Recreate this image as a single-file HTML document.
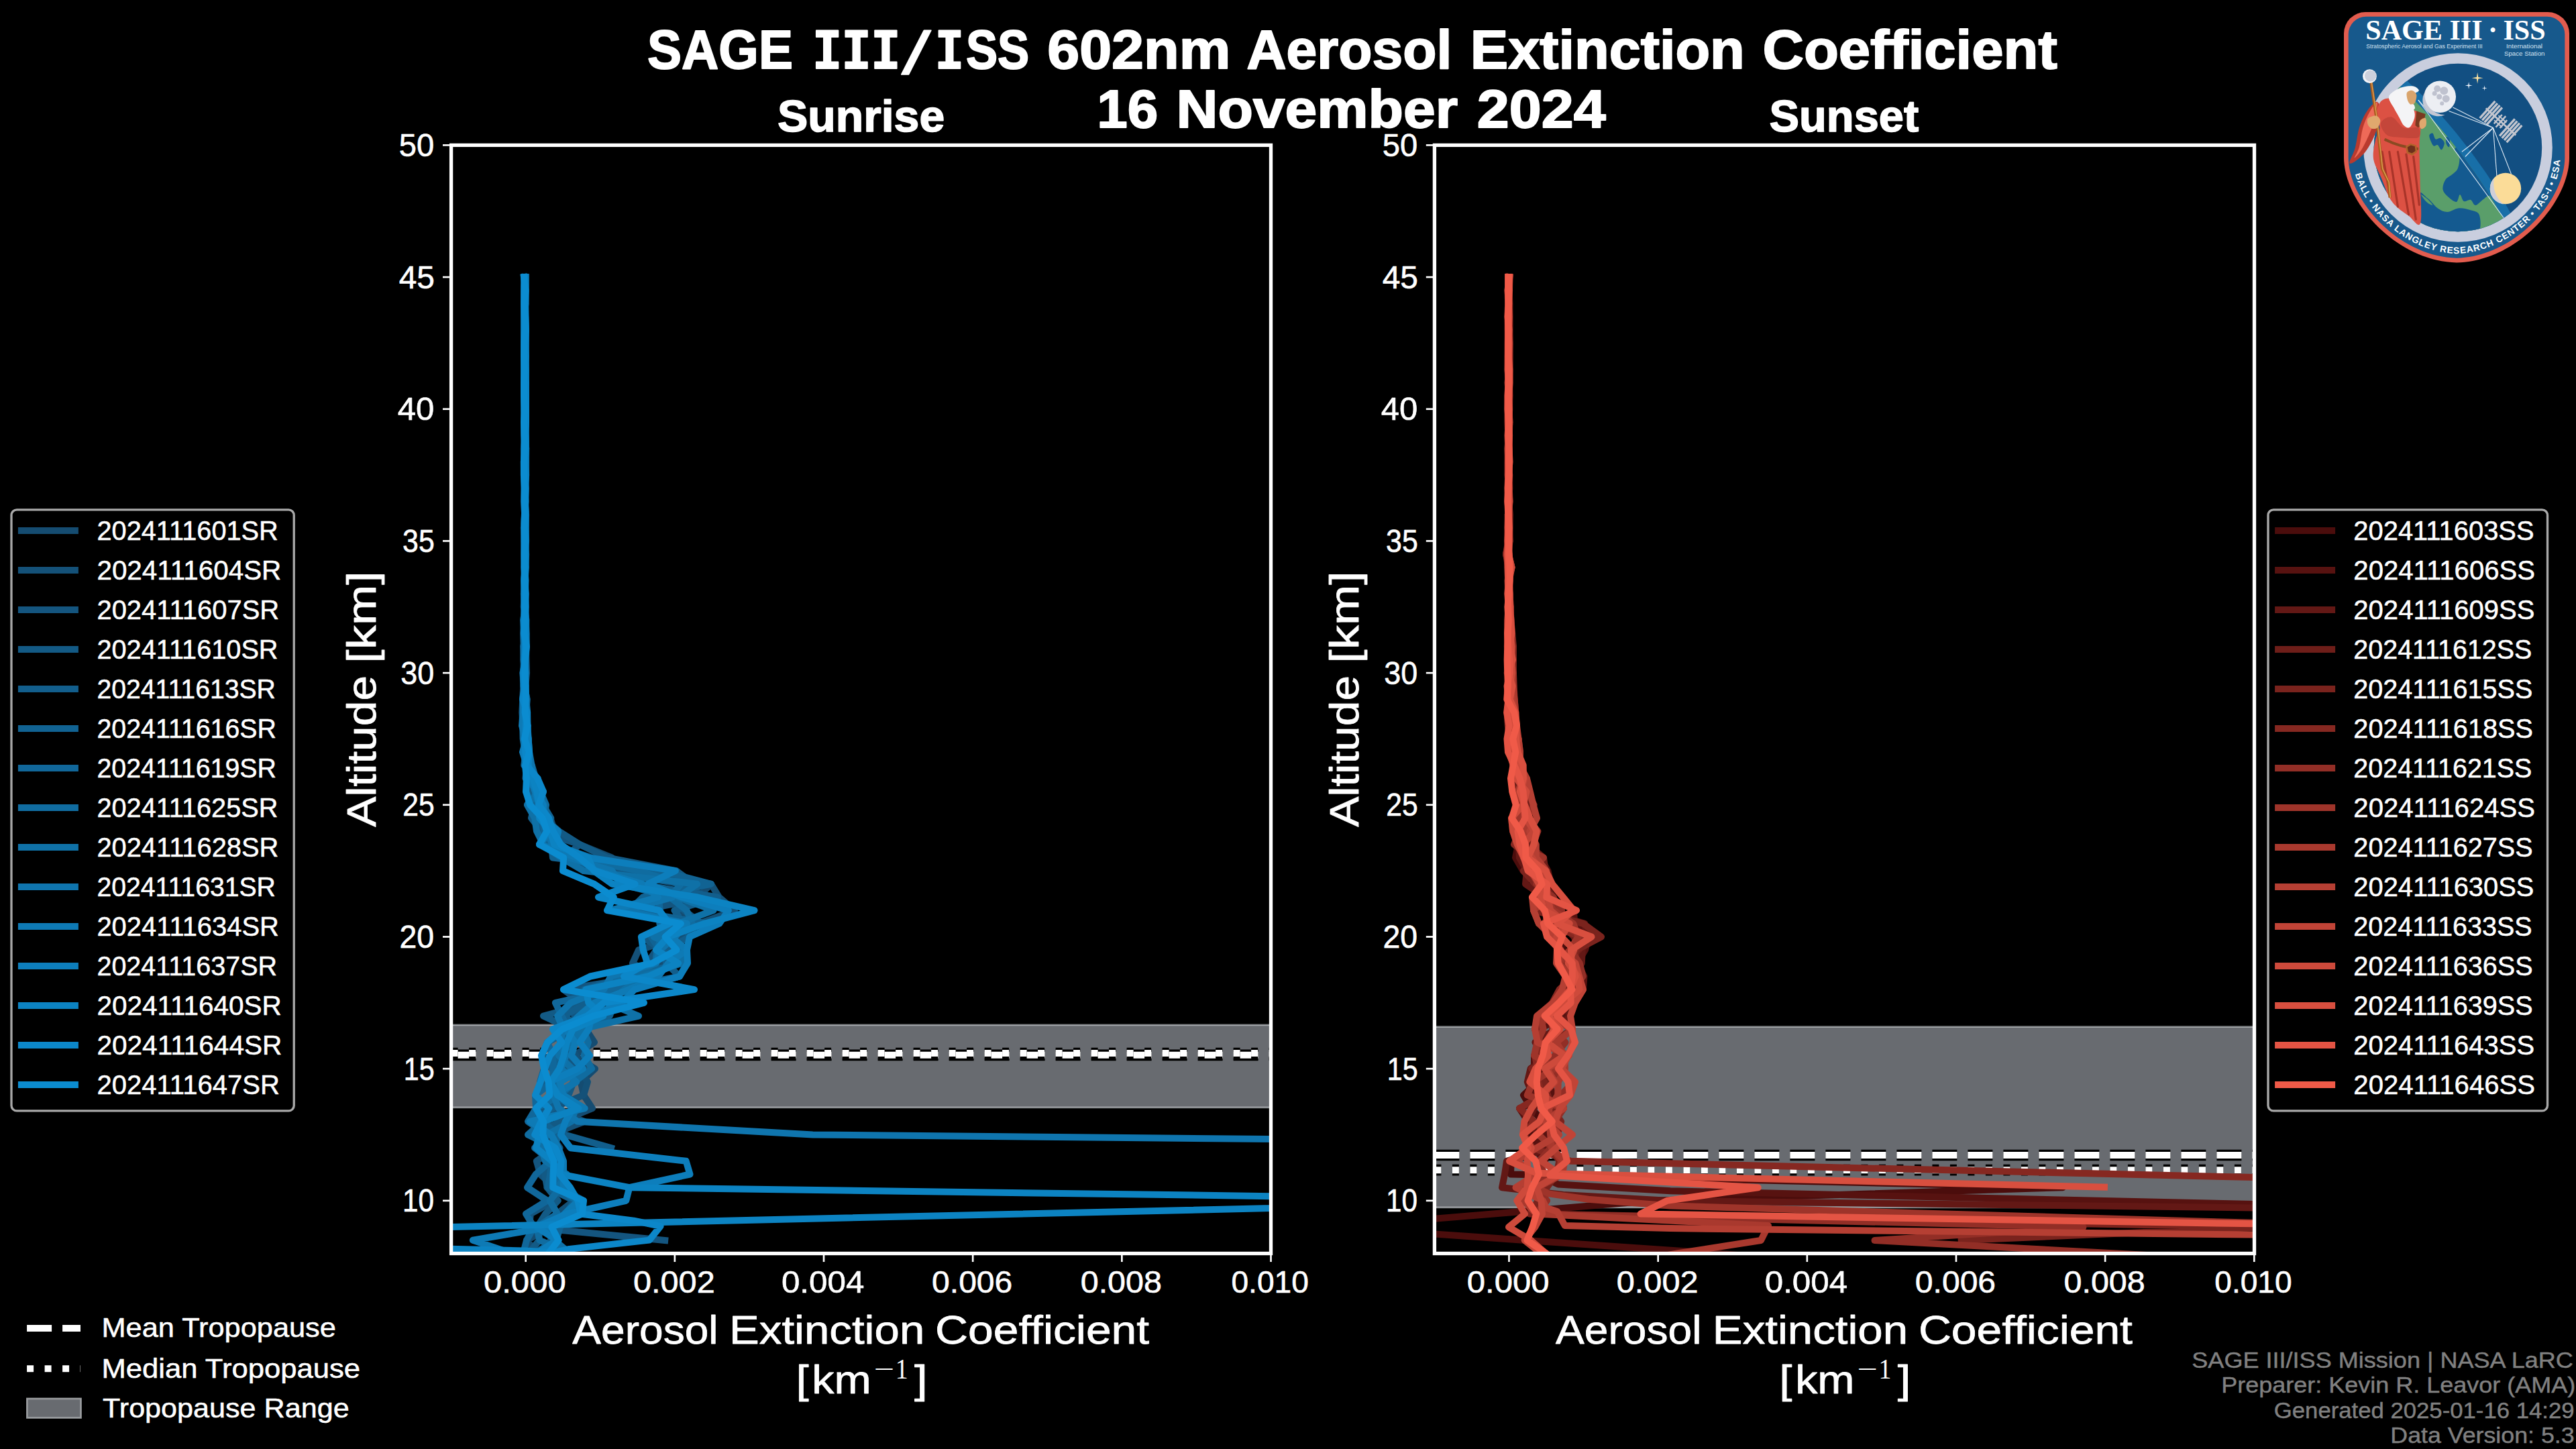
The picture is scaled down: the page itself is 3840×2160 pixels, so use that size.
<!DOCTYPE html>
<html><head><meta charset="utf-8"><title>SAGE III/ISS 602nm Aerosol Extinction Coefficient</title>
<style>html,body{margin:0;padding:0;background:#000;overflow:hidden}svg{display:block}</style></head>
<body>
<svg width="3840" height="2160" viewBox="0 0 3840 2160">
<rect width="3840" height="2160" fill="#000"/>
<defs>
<clipPath id="cp0"><rect x="672.6" y="216.4" width="1221.9" height="1652.1"/></clipPath>
<clipPath id="cp1"><rect x="2138.4" y="216.4" width="1222.1" height="1652.1"/></clipPath>
</defs>
<g clip-path="url(#cp0)">
<rect x="672.6" y="1527.90" width="1221.9" height="123.00" fill="#686b70"/>
<rect x="672.6" y="1526.56" width="1221.9" height="1.34" fill="#7d8084"/>
<rect x="672.6" y="1527.90" width="1221.9" height="1.34" fill="#acafb2"/>
<rect x="672.6" y="1649.56" width="1221.9" height="1.34" fill="#acafb2"/>
<rect x="672.6" y="1650.90" width="1221.9" height="1.34" fill="#7d8084"/>
<path d="M672.6 1572.80 H1894.5" stroke="#000" stroke-width="16.67" stroke-dasharray="37 16" fill="none"/>
<path d="M672.6 1572.80 H1894.5" stroke="#fff" stroke-width="10" stroke-dasharray="37 16" fill="none"/>
<path d="M672.6 1570.10 H1894.5" stroke="#000" stroke-width="16.67" stroke-dasharray="10 16.5" fill="none"/>
<path d="M672.6 1570.10 H1894.5" stroke="#fff" stroke-width="10" stroke-dasharray="10 16.5" fill="none"/>
<path d="M782.3 413.1 L783.2 432.7 L782.1 452.4 L783.1 472.1 L784.0 491.8 L781.0 511.4 L783.0 531.1 L784.0 550.8 L783.7 570.4 L783.5 590.1 L784.0 609.8 L782.8 629.4 L782.5 649.1 L782.7 668.8 L783.9 688.4 L781.9 708.1 L782.9 727.8 L783.2 747.4 L783.0 767.1 L782.5 786.8 L782.8 806.4 L781.1 826.1 L783.4 845.8 L781.7 865.4 L782.5 885.1 L782.4 904.8 L782.6 924.4 L780.2 944.1 L781.2 963.8 L781.6 983.4 L779.6 1003.1 L780.2 1022.8 L779.2 1042.5 L778.4 1062.1 L780.7 1081.8 L782.3 1101.5 L780.2 1121.1 L788.1 1140.8 L792.0 1160.5 L784.0 1180.1 L801.0 1199.8 L820.4 1219.5 L826.7 1239.1 L864.0 1258.8 L912.0 1278.5 L933.6 1298.1 L1060.0 1317.8 L1039.8 1337.5 L1014.1 1357.1 L1045.6 1376.8 L1008.2 1396.5 L979.8 1416.1 L989.1 1435.8 L958.9 1455.5 L910.2 1475.1 L895.8 1494.8 L899.5 1514.5 L873.3 1534.1 L886.0 1553.8 L856.1 1573.5 L887.0 1593.1 L865.9 1612.8 L870.0 1632.5 L883.0 1652.2 L835.1 1671.8 L829.1 1691.5 L814.3 1711.2 L823.5 1730.8 L838.3 1750.5 L835.1 1770.2 L870.0 1789.8 L831.4 1809.5 L821.9 1829.2 L785.0 1848.8 L800.8 1868.5" stroke="#154c71" stroke-width="10" fill="none" stroke-linejoin="round" stroke-linecap="square"/>
<path d="M782.9 413.1 L781.9 432.7 L781.3 452.4 L781.2 472.1 L781.1 491.8 L781.5 511.4 L782.7 531.1 L781.8 550.8 L781.9 570.4 L784.0 590.1 L783.3 609.8 L784.0 629.4 L783.0 649.1 L784.1 668.8 L784.0 688.4 L781.2 708.1 L783.2 727.8 L782.7 747.4 L782.3 767.1 L782.7 786.8 L782.3 806.4 L781.1 826.1 L782.0 845.8 L782.4 865.4 L783.8 885.1 L782.0 904.8 L782.5 924.4 L784.2 944.1 L783.8 963.8 L784.5 983.4 L785.1 1003.1 L783.4 1022.8 L779.2 1042.5 L781.3 1062.1 L783.4 1081.8 L781.4 1101.5 L787.8 1121.1 L788.1 1140.8 L791.7 1160.5 L805.1 1180.1 L790.4 1199.8 L816.7 1219.5 L818.1 1239.1 L804.0 1258.8 L867.8 1278.5 L952.4 1298.1 L1060.0 1317.8 L1072.0 1337.5 L1095.0 1357.1 L1042.2 1376.8 L1016.5 1396.5 L952.0 1416.1 L943.0 1435.8 L976.8 1455.5 L925.5 1475.1 L890.7 1494.8 L866.5 1514.5 L856.9 1534.1 L845.7 1553.8 L858.7 1573.5 L862.6 1593.1 L875.9 1612.8 L870.0 1632.5 L822.2 1652.2 L871.0 1671.8 L820.8 1691.5 L834.5 1711.2 L816.6 1730.8 L826.5 1750.5 L815.5 1770.2 L855.9 1789.8 L830.6 1809.5 L831.3 1829.2 L820.7 1848.8 L836.2 1868.5" stroke="#145178" stroke-width="10" fill="none" stroke-linejoin="round" stroke-linecap="square"/>
<path d="M782.9 413.1 L783.0 432.7 L782.9 452.4 L782.9 472.1 L781.8 491.8 L782.2 511.4 L781.7 531.1 L782.1 550.8 L783.0 570.4 L783.4 590.1 L783.4 609.8 L783.6 629.4 L781.7 649.1 L782.6 668.8 L782.4 688.4 L782.4 708.1 L782.0 727.8 L781.6 747.4 L782.1 767.1 L781.6 786.8 L781.2 806.4 L781.4 826.1 L781.1 845.8 L782.0 865.4 L782.0 885.1 L783.4 904.8 L783.5 924.4 L784.0 944.1 L780.1 963.8 L781.1 983.4 L782.1 1003.1 L783.3 1022.8 L782.5 1042.5 L780.7 1062.1 L780.4 1081.8 L782.2 1101.5 L787.2 1121.1 L784.9 1140.8 L798.4 1160.5 L795.7 1180.1 L786.0 1199.8 L797.3 1219.5 L803.2 1239.1 L864.0 1258.8 L841.5 1278.5 L901.5 1298.1 L1015.8 1317.8 L1054.2 1337.5 L955.5 1357.1 L1015.7 1376.8 L999.0 1396.5 L978.4 1416.1 L965.0 1435.8 L961.1 1455.5 L840.0 1475.1 L867.0 1494.8 L856.3 1514.5 L871.1 1534.1 L858.3 1553.8 L840.5 1573.5 L870.1 1593.1 L827.2 1612.8 L826.1 1632.5 L835.7 1652.2 L815.9 1671.8 L822.7 1691.5 L827.9 1711.2 L799.8 1730.8 L805.4 1750.5 L826.6 1770.2 L826.1 1789.8 L790.9 1809.5 L789.0 1829.2 L991.2 1849.0" stroke="#14557f" stroke-width="10" fill="none" stroke-linejoin="round" stroke-linecap="square"/>
<path d="M781.2 413.1 L783.5 432.7 L783.5 452.4 L781.1 472.1 L781.8 491.8 L782.8 511.4 L782.0 531.1 L782.9 550.8 L783.1 570.4 L782.7 590.1 L781.6 609.8 L782.7 629.4 L782.7 649.1 L781.6 668.8 L782.6 688.4 L782.3 708.1 L784.0 727.8 L783.0 747.4 L784.0 767.1 L783.0 786.8 L782.4 806.4 L783.2 826.1 L781.6 845.8 L782.0 865.4 L781.3 885.1 L781.5 904.8 L781.7 924.4 L780.3 944.1 L780.8 963.8 L783.9 983.4 L780.6 1003.1 L781.2 1022.8 L779.3 1042.5 L778.7 1062.1 L778.8 1081.8 L783.0 1101.5 L783.4 1121.1 L785.9 1140.8 L789.2 1160.5 L810.0 1180.1 L801.8 1199.8 L810.7 1219.5 L833.2 1239.1 L864.0 1258.8 L905.0 1278.5 L1008.0 1298.1 L1034.9 1317.8 L1029.4 1337.5 L1019.9 1357.1 L1045.2 1376.8 L957.7 1396.5 L985.7 1416.1 L1016.6 1435.8 L956.1 1455.5 L874.7 1475.1 L882.4 1494.8 L810.0 1514.5 L851.8 1534.1 L816.0 1553.8 L807.9 1573.5 L855.4 1593.1 L855.0 1612.8 L847.4 1632.5 L806.0 1652.2 L836.8 1671.8 L790.2 1691.5 L819.4 1711.2 L831.1 1730.8 L812.1 1750.5 L815.7 1770.2 L831.7 1789.8 L813.2 1809.5 L800.9 1829.2 L804.0 1848.8 L787.8 1868.5" stroke="#135a85" stroke-width="10" fill="none" stroke-linejoin="round" stroke-linecap="square"/>
<path d="M783.2 413.1 L783.4 432.7 L782.2 452.4 L782.6 472.1 L781.5 491.8 L783.0 511.4 L781.0 531.1 L781.0 550.8 L782.3 570.4 L782.5 590.1 L781.8 609.8 L783.0 629.4 L783.1 649.1 L781.3 668.8 L782.4 688.4 L782.3 708.1 L782.7 727.8 L782.2 747.4 L784.1 767.1 L783.6 786.8 L783.2 806.4 L783.2 826.1 L782.7 845.8 L781.5 865.4 L783.3 885.1 L783.9 904.8 L783.2 924.4 L784.0 944.1 L780.6 963.8 L780.2 983.4 L781.6 1003.1 L783.4 1022.8 L782.6 1042.5 L785.0 1062.1 L778.5 1081.8 L785.4 1101.5 L784.7 1121.1 L785.1 1140.8 L796.9 1160.5 L789.6 1180.1 L796.9 1199.8 L792.0 1219.5 L807.4 1239.1 L822.5 1258.8 L881.4 1278.5 L937.0 1298.1 L951.0 1317.8 L1069.7 1337.5 L1005.4 1357.1 L1019.0 1376.8 L1028.0 1396.5 L991.8 1416.1 L992.9 1435.8 L1013.0 1455.5 L941.7 1475.1 L876.5 1494.8 L839.4 1514.5 L870.6 1534.1 L852.1 1553.8 L847.3 1573.5 L811.0 1593.1 L805.0 1612.8 L833.1 1632.5 L823.7 1652.2 L792.3 1671.8 L842.0 1691.5 L910.9 1711.2" stroke="#125e8c" stroke-width="10" fill="none" stroke-linejoin="round" stroke-linecap="square"/>
<path d="M782.5 413.1 L781.0 432.7 L783.2 452.4 L782.3 472.1 L782.1 491.8 L781.1 511.4 L781.0 531.1 L781.0 550.8 L781.0 570.4 L781.0 590.1 L781.1 609.8 L781.0 629.4 L781.0 649.1 L782.9 668.8 L780.9 688.4 L781.1 708.1 L781.5 727.8 L780.9 747.4 L782.2 767.1 L780.9 786.8 L782.2 806.4 L781.1 826.1 L782.1 845.8 L783.5 865.4 L782.9 885.1 L782.1 904.8 L784.4 924.4 L783.6 944.1 L784.8 963.8 L783.7 983.4 L783.5 1003.1 L781.4 1022.8 L785.8 1042.5 L784.1 1062.1 L782.1 1081.8 L785.1 1101.5 L785.2 1121.1 L787.5 1140.8 L797.1 1160.5 L804.9 1180.1 L809.4 1199.8 L821.3 1219.5 L814.0 1239.1 L821.8 1258.8 L824.0 1278.5 L985.0 1298.1 L1060.0 1317.8 L958.2 1337.5 L938.3 1357.1 L1055.6 1376.8 L970.7 1396.5 L983.0 1416.1 L1014.0 1435.8 L938.7 1455.5 L870.6 1475.1 L916.1 1494.8 L908.8 1514.5 L850.4 1534.1 L836.7 1553.8 L829.3 1573.5 L822.9 1593.1 L833.2 1612.8 L824.8 1632.5 L861.6 1652.2 L808.6 1671.8 L832.6 1691.5 L826.0 1711.2 L822.4 1730.8 L820.2 1750.5 L816.9 1770.2 L857.6 1789.8 L842.7 1809.5 L835.0 1829.2 L829.1 1848.8 L796.1 1868.5" stroke="#116393" stroke-width="10" fill="none" stroke-linejoin="round" stroke-linecap="square"/>
<path d="M781.6 413.1 L781.0 432.7 L782.2 452.4 L783.1 472.1 L784.0 491.8 L783.4 511.4 L782.8 531.1 L784.0 550.8 L783.0 570.4 L783.3 590.1 L783.4 609.8 L781.3 629.4 L781.9 649.1 L780.9 668.8 L781.2 688.4 L781.5 708.1 L782.4 727.8 L782.5 747.4 L782.0 767.1 L780.9 786.8 L781.1 806.4 L781.5 826.1 L782.4 845.8 L781.4 865.4 L781.4 885.1 L780.8 904.8 L782.8 924.4 L781.8 944.1 L780.8 963.8 L782.1 983.4 L782.9 1003.1 L782.9 1022.8 L784.8 1042.5 L785.4 1062.1 L781.6 1081.8 L787.6 1101.5 L782.5 1121.1 L792.8 1140.8 L798.7 1160.5 L799.6 1180.1 L794.2 1199.8 L807.4 1219.5 L811.7 1239.1 L824.0 1258.8 L846.0 1278.5 L957.2 1298.1 L953.2 1317.8 L981.9 1337.5 L983.8 1357.1 L983.3 1376.8 L997.5 1396.5 L1024.0 1416.1 L1023.9 1435.8 L1013.0 1455.5 L916.7 1475.1 L827.9 1494.8 L837.4 1514.5 L847.7 1534.1 L816.0 1553.8 L824.1 1573.5 L824.9 1593.1 L823.8 1612.8 L798.0 1632.5 L799.0 1652.2 L787.0 1671.8 L816.1 1691.5 L797.0 1711.2 L821.3 1730.8 L798.7 1750.5 L786.0 1770.2 L815.8 1789.8 L784.0 1809.5 L796.0 1829.2 L785.0 1848.8 L780.0 1868.5" stroke="#11679a" stroke-width="10" fill="none" stroke-linejoin="round" stroke-linecap="square"/>
<path d="M783.8 413.1 L783.2 432.7 L783.3 452.4 L781.9 472.1 L783.9 491.8 L784.0 511.4 L783.7 531.1 L784.0 550.8 L783.4 570.4 L784.0 590.1 L783.7 609.8 L783.6 629.4 L783.5 649.1 L784.1 668.8 L782.8 688.4 L782.0 708.1 L782.1 727.8 L783.4 747.4 L781.9 767.1 L781.8 786.8 L781.8 806.4 L782.7 826.1 L783.2 845.8 L782.1 865.4 L781.8 885.1 L781.5 904.8 L782.1 924.4 L782.1 944.1 L781.8 963.8 L781.0 983.4 L783.4 1003.1 L780.4 1022.8 L784.5 1042.5 L782.1 1062.1 L786.5 1081.8 L787.3 1101.5 L783.6 1121.1 L781.3 1140.8 L801.8 1160.5 L805.4 1180.1 L814.0 1199.8 L810.7 1219.5 L823.6 1239.1 L804.0 1258.8 L863.1 1278.5 L951.7 1298.1 L1014.9 1317.8 L999.0 1337.5 L1023.5 1357.1 L1032.1 1376.8 L985.7 1396.5 L979.5 1416.1 L977.0 1435.8 L941.6 1455.5 L885.0 1475.1 L935.0 1494.8 L891.3 1514.5 L869.1 1534.1 L876.9 1553.8 L870.7 1573.5 L882.1 1593.1 L856.3 1612.8 L834.7 1632.5 L799.0 1652.2 L809.3 1671.8 L787.0 1691.5 L827.8 1711.2 L829.7 1730.8 L825.1 1750.5 L835.4 1770.2 L819.6 1789.8 L830.9 1809.5 L799.9 1829.2 L804.5 1848.8 L848.9 1868.5" stroke="#106ca0" stroke-width="10" fill="none" stroke-linejoin="round" stroke-linecap="square"/>
<path d="M783.8 413.1 L783.7 432.7 L783.3 452.4 L783.6 472.1 L784.0 491.8 L783.2 511.4 L784.0 531.1 L784.0 550.8 L784.0 570.4 L783.1 590.1 L783.4 609.8 L783.0 629.4 L783.2 649.1 L784.1 668.8 L784.1 688.4 L784.1 708.1 L783.4 727.8 L782.8 747.4 L783.7 767.1 L783.8 786.8 L784.1 806.4 L783.4 826.1 L782.8 845.8 L781.1 865.4 L781.5 885.1 L782.3 904.8 L780.4 924.4 L781.1 944.1 L782.3 963.8 L783.0 983.4 L779.5 1003.1 L781.1 1022.8 L782.6 1042.5 L780.6 1062.1 L779.3 1081.8 L779.7 1101.5 L782.8 1121.1 L785.4 1140.8 L783.5 1160.5 L802.9 1180.1 L786.0 1199.8 L797.2 1219.5 L800.0 1239.1 L809.9 1258.8 L836.3 1278.5 L870.0 1298.1 L1039.2 1317.8 L1010.6 1337.5 L1063.6 1357.1 L1011.1 1376.8 L974.4 1396.5 L1022.7 1416.1 L1015.6 1435.8 L958.2 1455.5 L930.7 1475.1 L905.0 1494.8 L952.0 1514.5 L866.0 1534.1 L853.7 1553.8 L833.0 1573.5 L852.9 1593.1 L834.1 1612.8 L832.0 1632.5 L858.3 1652.2 L851.7 1671.8 L815.3 1691.5 L806.3 1711.2 L812.8 1730.8 L845.0 1750.5 L831.4 1770.2 L860.1 1789.8 L852.8 1809.5 L818.8 1829.2 L826.5 1848.8 L850.0 1868.5" stroke="#0f71a7" stroke-width="10" fill="none" stroke-linejoin="round" stroke-linecap="square"/>
<path d="M781.7 413.1 L781.8 432.7 L781.0 452.4 L782.8 472.1 L782.8 491.8 L783.6 511.4 L782.3 531.1 L783.4 550.8 L782.3 570.4 L782.5 590.1 L783.7 609.8 L781.7 629.4 L781.8 649.1 L781.4 668.8 L781.7 688.4 L782.2 708.1 L781.9 727.8 L782.4 747.4 L783.0 767.1 L783.1 786.8 L783.0 806.4 L782.9 826.1 L783.0 845.8 L783.1 865.4 L781.6 885.1 L782.6 904.8 L780.4 924.4 L780.9 944.1 L780.9 963.8 L781.1 983.4 L783.4 1003.1 L783.6 1022.8 L784.3 1042.5 L786.1 1062.1 L786.5 1081.8 L787.6 1101.5 L789.0 1121.1 L792.5 1140.8 L795.1 1160.5 L801.1 1180.1 L803.7 1199.8 L814.0 1219.5 L815.7 1239.1 L823.0 1258.8 L847.8 1278.5 L912.3 1298.1 L925.3 1317.8 L1002.6 1337.5 L932.1 1357.1 L1022.6 1376.8 L1006.5 1396.5 L983.6 1416.1 L978.2 1435.8 L910.6 1455.5 L900.0 1475.1 L850.8 1494.8 L831.2 1514.5 L839.7 1534.1 L835.1 1553.8 L843.3 1573.5 L836.1 1593.1 L859.3 1612.8 L825.1 1632.5 L832.7 1652.2 L861.0 1671.8 L1211.6 1691.5 L3281.0 1711.2" stroke="#0f75ae" stroke-width="10" fill="none" stroke-linejoin="round" stroke-linecap="square"/>
<path d="M782.4 413.1 L782.1 432.7 L782.3 452.4 L781.9 472.1 L781.0 491.8 L781.0 511.4 L781.0 531.1 L781.0 550.8 L781.0 570.4 L781.0 590.1 L781.4 609.8 L782.4 629.4 L783.3 649.1 L782.9 668.8 L780.9 688.4 L782.7 708.1 L782.9 727.8 L782.8 747.4 L782.0 767.1 L781.8 786.8 L782.6 806.4 L784.1 826.1 L783.6 845.8 L782.7 865.4 L780.9 885.1 L782.1 904.8 L784.0 924.4 L784.6 944.1 L784.7 963.8 L782.2 983.4 L783.5 1003.1 L781.9 1022.8 L779.8 1042.5 L779.8 1062.1 L778.1 1081.8 L783.6 1101.5 L787.7 1121.1 L788.1 1140.8 L791.3 1160.5 L797.8 1180.1 L803.6 1199.8 L804.6 1219.5 L819.6 1239.1 L804.0 1258.8 L859.2 1278.5 L889.6 1298.1 L958.0 1317.8 L981.0 1337.5 L910.0 1357.1 L1024.0 1376.8 L999.9 1396.5 L1024.0 1416.1 L996.3 1435.8 L981.2 1455.5 L937.6 1475.1 L885.9 1494.8 L862.7 1514.5 L843.4 1534.1 L857.5 1553.8 L851.7 1573.5 L869.0 1593.1 L834.7 1612.8 L839.5 1632.5 L871.7 1652.2 L789.9 1671.8 L821.6 1691.5 L832.4 1711.2 L840.0 1730.8 L840.1 1750.5 L839.5 1770.2 L862.4 1789.8 L841.6 1809.5 L819.0 1829.2 L704.8 1848.8 L763.2 1868.5" stroke="#0e7ab5" stroke-width="10" fill="none" stroke-linejoin="round" stroke-linecap="square"/>
<path d="M781.9 413.1 L781.0 432.7 L781.0 452.4 L781.0 472.1 L781.2 491.8 L781.0 511.4 L782.3 531.1 L781.4 550.8 L784.0 570.4 L782.6 590.1 L782.8 609.8 L783.7 629.4 L783.0 649.1 L782.6 668.8 L783.2 688.4 L781.8 708.1 L781.8 727.8 L781.9 747.4 L782.1 767.1 L782.8 786.8 L782.4 806.4 L782.7 826.1 L783.5 845.8 L782.5 865.4 L782.8 885.1 L783.3 904.8 L780.8 924.4 L782.2 944.1 L783.3 963.8 L781.5 983.4 L782.1 1003.1 L783.2 1022.8 L781.9 1042.5 L782.5 1062.1 L783.1 1081.8 L784.8 1101.5 L779.0 1121.1 L785.3 1140.8 L790.8 1160.5 L800.5 1180.1 L810.0 1199.8 L809.1 1219.5 L832.2 1239.1 L827.9 1258.8 L877.3 1278.5 L1007.0 1298.1 L965.9 1317.8 L1016.7 1337.5 L1085.9 1357.1 L1072.2 1376.8 L1028.0 1396.5 L1024.0 1416.1 L1025.0 1435.8 L1013.0 1455.5 L945.7 1475.1 L927.2 1494.8 L882.2 1514.5 L877.7 1534.1 L864.3 1553.8 L879.0 1573.5 L861.0 1593.1 L819.3 1612.8 L832.8 1632.5 L854.4 1652.2 L842.8 1671.8 L835.9 1691.5 L850.5 1711.2 L1022.7 1730.8 L1028.5 1750.5 L938.3 1770.2 L933.3 1789.8 L845.0 1809.5 L800.0 1829.2 L830.0 1848.8 L800.0 1868.5" stroke="#0d7ebc" stroke-width="10" fill="none" stroke-linejoin="round" stroke-linecap="square"/>
<path d="M782.2 413.1 L783.0 432.7 L781.1 452.4 L782.8 472.1 L782.9 491.8 L782.0 511.4 L782.2 531.1 L783.8 550.8 L783.3 570.4 L783.6 590.1 L781.7 609.8 L782.5 629.4 L783.7 649.1 L784.1 668.8 L782.4 688.4 L784.1 708.1 L782.4 727.8 L782.4 747.4 L783.3 767.1 L783.0 786.8 L783.3 806.4 L782.4 826.1 L783.1 845.8 L781.2 865.4 L782.5 885.1 L782.7 904.8 L783.4 924.4 L782.8 944.1 L783.2 963.8 L782.9 983.4 L780.0 1003.1 L780.7 1022.8 L782.7 1042.5 L784.1 1062.1 L784.9 1081.8 L787.6 1101.5 L789.0 1121.1 L787.3 1140.8 L794.7 1160.5 L800.2 1180.1 L803.7 1199.8 L804.2 1219.5 L820.4 1239.1 L826.1 1258.8 L876.8 1278.5 L885.1 1298.1 L912.5 1317.8 L1040.0 1337.5 L1124.6 1357.1 L1050.0 1376.8 L995.6 1396.5 L978.0 1416.1 L1011.0 1435.8 L966.0 1455.5 L873.2 1475.1 L877.3 1494.8 L899.4 1514.5 L854.3 1534.1 L844.9 1553.8 L840.4 1573.5 L834.0 1593.1 L820.9 1612.8 L830.8 1632.5 L862.5 1652.2 L809.5 1671.8 L803.6 1691.5 L799.2 1711.2 L822.8 1730.8 L835.6 1750.5 L938.3 1770.2 L2385.0 1789.8 L400.0 1835.3 L300.0 1853.0 L782.6 1864.4 L850.0 1868.5" stroke="#0c83c2" stroke-width="10" fill="none" stroke-linejoin="round" stroke-linecap="square"/>
<path d="M782.0 413.1 L782.0 432.7 L781.0 452.4 L782.5 472.1 L783.9 491.8 L782.9 511.4 L783.5 531.1 L782.0 550.8 L783.3 570.4 L783.9 590.1 L784.0 609.8 L784.0 629.4 L782.9 649.1 L782.3 668.8 L782.7 688.4 L782.1 708.1 L783.2 727.8 L783.3 747.4 L782.3 767.1 L782.5 786.8 L782.1 806.4 L781.9 826.1 L781.6 845.8 L783.1 865.4 L782.7 885.1 L781.7 904.8 L783.4 924.4 L783.5 944.1 L783.3 963.8 L782.7 983.4 L780.5 1003.1 L782.0 1022.8 L779.2 1042.5 L786.1 1062.1 L784.6 1081.8 L782.3 1101.5 L783.3 1121.1 L785.1 1140.8 L801.4 1160.5 L810.0 1180.1 L803.0 1199.8 L818.1 1219.5 L824.4 1239.1 L835.9 1258.8 L863.7 1278.5 L886.8 1298.1 L946.6 1317.8 L892.0 1337.5 L982.7 1357.1 L997.6 1376.8 L955.9 1396.5 L958.7 1416.1 L965.0 1435.8 L930.0 1455.5 L1035.0 1475.1 L900.0 1494.8 L875.4 1514.5 L824.0 1534.1 L837.3 1553.8 L819.7 1573.5 L812.0 1593.1 L805.7 1612.8 L798.0 1632.5 L818.3 1652.2 L806.6 1671.8 L797.2 1691.5 L827.7 1711.2 L836.7 1730.8 L834.2 1750.5 L850.0 1770.2 L861.5 1789.8 L865.4 1809.5 L944.9 1819.7 L984.6 1827.9 L968.0 1848.6 L848.8 1861.9 L819.0 1868.5" stroke="#0c87c9" stroke-width="10" fill="none" stroke-linejoin="round" stroke-linecap="square"/>
<path d="M781.0 413.1 L783.3 432.7 L782.5 452.4 L782.7 472.1 L782.7 491.8 L781.5 511.4 L781.0 531.1 L781.8 550.8 L781.0 570.4 L781.0 590.1 L782.1 609.8 L781.0 629.4 L781.8 649.1 L782.2 668.8 L780.9 688.4 L780.9 708.1 L782.1 727.8 L782.3 747.4 L782.7 767.1 L781.9 786.8 L782.8 806.4 L782.0 826.1 L782.1 845.8 L782.3 865.4 L783.4 885.1 L782.9 904.8 L782.2 924.4 L781.4 944.1 L784.8 963.8 L782.8 983.4 L782.6 1003.1 L783.2 1022.8 L783.8 1042.5 L782.6 1062.1 L786.5 1081.8 L781.8 1101.5 L789.0 1121.1 L783.0 1140.8 L784.9 1160.5 L784.0 1180.1 L790.1 1199.8 L808.5 1219.5 L815.3 1239.1 L804.0 1258.8 L840.2 1278.5 L839.0 1298.1 L885.9 1317.8 L914.7 1337.5 L905.0 1357.1 L1014.9 1376.8 L991.6 1396.5 L1008.7 1416.1 L972.3 1435.8 L879.9 1455.5 L840.0 1475.1 L960.0 1494.8 L884.0 1514.5 L838.4 1534.1 L816.0 1553.8 L807.0 1573.5 L811.0 1593.1 L817.7 1612.8 L819.3 1632.5 L799.0 1652.2 L810.1 1671.8 L809.3 1691.5 L816.9 1711.2 L825.6 1730.8 L824.6 1750.5 L824.2 1770.2 L870.0 1789.8 L868.0 1809.5 L822.3 1829.2 L832.6 1848.8 L817.5 1868.5" stroke="#0b8cd0" stroke-width="10" fill="none" stroke-linejoin="round" stroke-linecap="square"/>
</g>
<rect x="672.60" y="216.40" width="1221.90" height="1652.10" fill="none" stroke="#fff" stroke-width="5.33"/>
<path d="M670.60 1789.83 h-10.6" stroke="#fff" stroke-width="2.67"/>
<path d="M670.60 1593.15 h-10.6" stroke="#fff" stroke-width="2.67"/>
<path d="M670.60 1396.47 h-10.6" stroke="#fff" stroke-width="2.67"/>
<path d="M670.60 1199.79 h-10.6" stroke="#fff" stroke-width="2.67"/>
<path d="M670.60 1003.11 h-10.6" stroke="#fff" stroke-width="2.67"/>
<path d="M670.60 806.44 h-10.6" stroke="#fff" stroke-width="2.67"/>
<path d="M670.60 609.76 h-10.6" stroke="#fff" stroke-width="2.67"/>
<path d="M670.60 413.08 h-10.6" stroke="#fff" stroke-width="2.67"/>
<path d="M670.60 216.40 h-10.6" stroke="#fff" stroke-width="2.67"/>
<path d="M783.68 1870.50 v10.6" stroke="#fff" stroke-width="2.67"/>
<path d="M1005.85 1870.50 v10.6" stroke="#fff" stroke-width="2.67"/>
<path d="M1228.01 1870.50 v10.6" stroke="#fff" stroke-width="2.67"/>
<path d="M1450.17 1870.50 v10.6" stroke="#fff" stroke-width="2.67"/>
<path d="M1672.34 1870.50 v10.6" stroke="#fff" stroke-width="2.67"/>
<path d="M1894.50 1870.50 v10.6" stroke="#fff" stroke-width="2.67"/>
<g clip-path="url(#cp1)">
<rect x="2138.4" y="1530.65" width="1222.1" height="269.25" fill="#686b70"/>
<rect x="2138.4" y="1529.31" width="1222.1" height="1.34" fill="#7d8084"/>
<rect x="2138.4" y="1530.65" width="1222.1" height="1.34" fill="#acafb2"/>
<rect x="2138.4" y="1798.56" width="1222.1" height="1.34" fill="#acafb2"/>
<rect x="2138.4" y="1799.90" width="1222.1" height="1.34" fill="#7d8084"/>
<path d="M2138.4 1722.00 H3360.5" stroke="#000" stroke-width="16.67" stroke-dasharray="37 16" fill="none"/>
<path d="M2138.4 1722.00 H3360.5" stroke="#fff" stroke-width="10" stroke-dasharray="37 16" fill="none"/>
<path d="M2138.4 1744.20 H3360.5" stroke="#000" stroke-width="16.67" stroke-dasharray="10 16.5" fill="none"/>
<path d="M2138.4 1744.20 H3360.5" stroke="#fff" stroke-width="10" stroke-dasharray="10 16.5" fill="none"/>
<path d="M2248.8 413.1 L2250.2 432.7 L2249.3 452.4 L2250.5 472.1 L2250.5 491.8 L2250.5 511.4 L2250.3 531.1 L2250.5 550.8 L2250.0 570.4 L2250.5 590.1 L2249.1 609.8 L2249.4 629.4 L2248.9 649.1 L2249.6 668.8 L2248.3 688.4 L2248.9 708.1 L2250.2 727.8 L2249.2 747.4 L2249.1 767.1 L2247.6 786.8 L2247.4 806.4 L2248.0 826.1 L2249.5 845.8 L2248.9 865.4 L2249.2 885.1 L2249.6 904.8 L2249.5 924.4 L2248.1 944.1 L2246.8 963.8 L2252.2 983.4 L2248.4 1003.1 L2249.2 1022.8 L2254.9 1042.5 L2251.9 1062.1 L2253.2 1081.8 L2247.0 1101.5 L2254.0 1121.1 L2256.1 1140.8 L2258.2 1160.5 L2258.4 1180.1 L2279.2 1199.8 L2253.0 1219.5 L2255.0 1239.1 L2263.0 1258.8 L2259.0 1278.5 L2270.3 1298.1 L2291.8 1317.8 L2308.9 1337.5 L2290.6 1357.1 L2343.4 1376.8 L2324.0 1396.5 L2330.5 1416.1 L2348.1 1435.8 L2333.9 1455.5 L2330.8 1475.1 L2314.0 1494.8 L2292.5 1514.5 L2288.0 1534.1 L2301.2 1553.8 L2297.1 1573.5 L2301.0 1593.1 L2291.7 1612.8 L2271.0 1632.5 L2282.5 1652.2 L2300.4 1671.8 L2274.4 1691.5 L2303.0 1711.2 L2252.7 1730.8 L2252.0 1750.5 L3075.0 1770.2 L2465.0 1789.8 L1986.0 1829.2 L2560.0 1868.5 L2700.0 1880.0" stroke="#4b0d0c" stroke-width="10" fill="none" stroke-linejoin="round" stroke-linecap="square"/>
<path d="M2249.4 413.1 L2249.5 432.7 L2249.0 452.4 L2247.5 472.1 L2247.5 491.8 L2247.5 511.4 L2247.5 531.1 L2248.3 550.8 L2247.8 570.4 L2248.9 590.1 L2248.6 609.8 L2248.8 629.4 L2249.8 649.1 L2249.9 668.8 L2248.8 688.4 L2250.2 708.1 L2249.0 727.8 L2247.9 747.4 L2249.4 767.1 L2248.5 786.8 L2249.3 806.4 L2248.1 826.1 L2248.7 845.8 L2249.1 865.4 L2249.1 885.1 L2249.4 904.8 L2250.6 924.4 L2251.4 944.1 L2255.9 963.8 L2252.7 983.4 L2254.9 1003.1 L2251.6 1022.8 L2257.6 1042.5 L2255.9 1062.1 L2260.9 1081.8 L2261.8 1101.5 L2259.5 1121.1 L2264.0 1140.8 L2267.9 1160.5 L2266.2 1180.1 L2263.5 1199.8 L2277.5 1219.5 L2275.4 1239.1 L2274.1 1258.8 L2296.7 1278.5 L2307.5 1298.1 L2312.1 1317.8 L2330.0 1337.5 L2346.0 1357.1 L2347.1 1376.8 L2368.2 1396.5 L2363.0 1416.1 L2351.5 1435.8 L2361.4 1455.5 L2360.0 1475.1 L2348.0 1494.8 L2331.0 1514.5 L2294.9 1534.1 L2314.9 1553.8 L2287.0 1573.5 L2286.9 1593.1 L2308.2 1612.8 L2315.2 1632.5 L2265.0 1652.2 L2277.9 1671.8 L2305.1 1691.5 L2286.4 1711.2 L2303.1 1730.8 L2290.0 1750.5 L2322.8 1765.5 L2490.0 1775.2 L3400.0 1796.0" stroke="#571210" stroke-width="10" fill="none" stroke-linejoin="round" stroke-linecap="square"/>
<path d="M2250.5 413.1 L2249.6 432.7 L2250.5 452.4 L2250.5 472.1 L2250.5 491.8 L2250.5 511.4 L2250.1 531.1 L2250.4 550.8 L2250.0 570.4 L2250.5 590.1 L2250.1 609.8 L2250.0 629.4 L2249.2 649.1 L2249.2 668.8 L2249.0 688.4 L2250.2 708.1 L2250.3 727.8 L2249.2 747.4 L2248.0 767.1 L2250.1 786.8 L2248.3 806.4 L2248.6 826.1 L2248.7 845.8 L2248.6 865.4 L2249.1 885.1 L2249.4 904.8 L2250.3 924.4 L2248.8 944.1 L2250.9 963.8 L2248.9 983.4 L2255.1 1003.1 L2247.3 1022.8 L2246.4 1042.5 L2252.3 1062.1 L2252.2 1081.8 L2257.9 1101.5 L2266.0 1121.1 L2255.4 1140.8 L2257.8 1160.5 L2254.5 1180.1 L2259.4 1199.8 L2261.7 1219.5 L2276.5 1239.1 L2263.9 1258.8 L2264.9 1278.5 L2275.9 1298.1 L2274.0 1317.8 L2302.7 1337.5 L2293.1 1357.1 L2362.4 1376.8 L2365.6 1396.5 L2358.8 1416.1 L2357.8 1435.8 L2346.8 1455.5 L2337.0 1475.1 L2332.7 1494.8 L2341.0 1514.5 L2318.7 1534.1 L2288.4 1553.8 L2307.3 1573.5 L2281.5 1593.1 L2276.8 1612.8 L2285.0 1632.5 L2287.0 1652.2 L2277.8 1671.8 L2295.7 1691.5 L2311.3 1711.2 L2246.0 1730.8 L2243.0 1750.5 L2239.0 1770.2 L2330.0 1781.0 L2490.0 1790.0 L3400.0 1801.0" stroke="#631815" stroke-width="10" fill="none" stroke-linejoin="round" stroke-linecap="square"/>
<path d="M2248.9 413.1 L2249.2 432.7 L2248.6 452.4 L2247.6 472.1 L2248.4 491.8 L2247.7 511.4 L2247.5 531.1 L2247.5 550.8 L2248.2 570.4 L2247.5 590.1 L2247.7 609.8 L2248.8 629.4 L2249.7 649.1 L2248.7 668.8 L2247.4 688.4 L2247.4 708.1 L2249.7 727.8 L2249.6 747.4 L2250.5 767.1 L2249.7 786.8 L2250.6 806.4 L2245.0 826.1 L2250.6 845.8 L2250.6 865.4 L2250.6 885.1 L2251.5 904.8 L2252.3 924.4 L2253.0 944.1 L2252.5 963.8 L2255.9 983.4 L2252.5 1003.1 L2250.5 1022.8 L2249.5 1042.5 L2252.2 1062.1 L2251.9 1081.8 L2247.7 1101.5 L2255.4 1121.1 L2256.6 1140.8 L2255.5 1160.5 L2269.8 1180.1 L2277.6 1199.8 L2262.6 1219.5 L2279.4 1239.1 L2277.5 1258.8 L2301.0 1278.5 L2303.6 1298.1 L2299.9 1317.8 L2316.0 1337.5 L2316.0 1357.1 L2327.3 1376.8 L2346.5 1396.5 L2353.9 1416.1 L2329.6 1435.8 L2355.1 1455.5 L2348.1 1475.1 L2343.5 1494.8 L2312.3 1514.5 L2314.3 1534.1 L2324.5 1553.8 L2324.4 1573.5 L2312.8 1593.1 L2305.1 1612.8 L2291.8 1632.5 L2312.6 1652.2 L2294.2 1671.8 L2271.0 1691.5 L2278.4 1711.2" stroke="#6e1e19" stroke-width="10" fill="none" stroke-linejoin="round" stroke-linecap="square"/>
<path d="M2249.2 413.1 L2249.6 432.7 L2250.0 452.4 L2249.0 472.1 L2249.5 491.8 L2249.5 511.4 L2250.2 531.1 L2249.6 550.8 L2250.5 570.4 L2249.4 590.1 L2249.8 609.8 L2250.3 629.4 L2249.9 649.1 L2249.0 668.8 L2249.3 688.4 L2249.0 708.1 L2248.0 727.8 L2247.5 747.4 L2248.8 767.1 L2248.2 786.8 L2248.3 806.4 L2245.0 826.1 L2248.4 845.8 L2248.1 865.4 L2248.2 885.1 L2249.6 904.8 L2247.8 924.4 L2247.3 944.1 L2250.4 963.8 L2254.7 983.4 L2246.7 1003.1 L2252.8 1022.8 L2256.5 1042.5 L2254.2 1062.1 L2253.9 1081.8 L2263.5 1101.5 L2266.0 1121.1 L2261.8 1140.8 L2276.0 1160.5 L2274.0 1180.1 L2264.8 1199.8 L2258.9 1219.5 L2281.7 1239.1 L2261.0 1258.8 L2295.4 1278.5 L2270.9 1298.1 L2288.8 1317.8 L2311.0 1337.5 L2286.0 1357.1 L2360.0 1376.8 L2387.0 1396.5 L2350.0 1416.1 L2346.6 1435.8 L2345.1 1455.5 L2357.1 1475.1 L2334.1 1494.8 L2310.4 1514.5 L2344.0 1534.1 L2313.6 1553.8 L2321.8 1573.5 L2283.2 1593.1 L2301.9 1612.8 L2307.3 1632.5 L2313.2 1652.2 L2327.2 1671.8 L2321.5 1691.5 L2312.5 1711.2 L2324.4 1730.8 L2320.0 1750.5 L2306.0 1770.2 L2292.8 1789.8 L2280.0 1809.5 L3375.0 1829.2 L2923.7 1849.0" stroke="#7a231d" stroke-width="10" fill="none" stroke-linejoin="round" stroke-linecap="square"/>
<path d="M2249.9 413.1 L2248.6 432.7 L2249.5 452.4 L2249.7 472.1 L2249.0 491.8 L2250.3 511.4 L2249.8 531.1 L2249.6 550.8 L2250.0 570.4 L2249.6 590.1 L2250.2 609.8 L2249.2 629.4 L2249.5 649.1 L2249.3 668.8 L2249.3 688.4 L2249.5 708.1 L2249.3 727.8 L2249.2 747.4 L2250.6 767.1 L2250.6 786.8 L2250.4 806.4 L2245.0 826.1 L2250.6 845.8 L2249.1 865.4 L2248.7 885.1 L2251.5 904.8 L2252.4 924.4 L2254.2 944.1 L2255.9 963.8 L2255.9 983.4 L2255.9 1003.1 L2256.8 1022.8 L2257.6 1042.5 L2259.3 1062.1 L2259.7 1081.8 L2257.4 1101.5 L2266.0 1121.1 L2262.2 1140.8 L2268.7 1160.5 L2265.7 1180.1 L2267.0 1199.8 L2275.5 1219.5 L2265.1 1239.1 L2257.0 1258.8 L2281.1 1278.5 L2282.3 1298.1 L2291.7 1317.8 L2314.9 1337.5 L2310.2 1357.1 L2302.7 1376.8 L2357.2 1396.5 L2348.5 1416.1 L2337.0 1435.8 L2346.9 1455.5 L2324.6 1475.1 L2314.0 1494.8 L2309.4 1514.5 L2288.0 1534.1 L2296.4 1553.8 L2288.0 1573.5 L2292.2 1593.1 L2293.3 1612.8 L2298.7 1632.5 L2265.0 1652.2 L2286.8 1671.8 L2271.7 1691.5 L2284.4 1711.2 L2341.0 1730.8 L3400.0 1756.0" stroke="#862821" stroke-width="10" fill="none" stroke-linejoin="round" stroke-linecap="square"/>
<path d="M2250.5 413.1 L2250.0 432.7 L2249.5 452.4 L2249.5 472.1 L2249.8 491.8 L2250.5 511.4 L2250.5 531.1 L2250.5 550.8 L2250.2 570.4 L2249.9 590.1 L2248.7 609.8 L2248.5 629.4 L2249.6 649.1 L2249.3 668.8 L2249.3 688.4 L2248.5 708.1 L2249.8 727.8 L2250.6 747.4 L2247.8 767.1 L2248.7 786.8 L2249.4 806.4 L2245.0 826.1 L2250.3 845.8 L2250.6 865.4 L2248.6 885.1 L2250.3 904.8 L2250.0 924.4 L2248.1 944.1 L2249.1 963.8 L2251.5 983.4 L2248.6 1003.1 L2252.4 1022.8 L2249.0 1042.5 L2246.5 1062.1 L2247.9 1081.8 L2250.2 1101.5 L2257.6 1121.1 L2259.4 1140.8 L2266.9 1160.5 L2276.7 1180.1 L2286.6 1199.8 L2276.6 1219.5 L2292.4 1239.1 L2285.2 1258.8 L2280.6 1278.5 L2303.1 1298.1 L2290.3 1317.8 L2315.1 1337.5 L2328.1 1357.1 L2321.0 1376.8 L2363.2 1396.5 L2341.4 1416.1 L2354.7 1435.8 L2359.7 1455.5 L2344.9 1475.1 L2327.6 1494.8 L2313.1 1514.5 L2314.6 1534.1 L2333.3 1553.8 L2317.7 1573.5 L2303.4 1593.1 L2345.9 1612.8 L2326.9 1632.5 L2331.0 1652.2 L2317.8 1671.8 L2321.0 1691.5 L2311.4 1711.2 L2294.3 1730.8 L2302.2 1750.5 L2290.5 1770.2 L2306.0 1789.8 L2290.0 1809.5 L3105.4 1829.1 L2794.5 1849.0 L3053.0 1863.0 L3200.0 1871.0" stroke="#922e26" stroke-width="10" fill="none" stroke-linejoin="round" stroke-linecap="square"/>
<path d="M2248.9 413.1 L2249.1 432.7 L2248.1 452.4 L2248.5 472.1 L2248.2 491.8 L2248.4 511.4 L2248.9 531.1 L2247.9 550.8 L2248.3 570.4 L2248.2 590.1 L2247.5 609.8 L2247.5 629.4 L2248.3 649.1 L2249.2 668.8 L2248.8 688.4 L2248.9 708.1 L2248.8 727.8 L2250.6 747.4 L2248.8 767.1 L2248.8 786.8 L2250.6 806.4 L2248.3 826.1 L2250.6 845.8 L2248.4 865.4 L2249.0 885.1 L2249.1 904.8 L2250.8 924.4 L2252.0 944.1 L2250.5 963.8 L2252.2 983.4 L2255.9 1003.1 L2254.6 1022.8 L2255.3 1042.5 L2253.7 1062.1 L2257.8 1081.8 L2258.0 1101.5 L2255.6 1121.1 L2259.3 1140.8 L2266.3 1160.5 L2275.3 1180.1 L2269.7 1199.8 L2261.6 1219.5 L2256.1 1239.1 L2261.8 1258.8 L2301.0 1278.5 L2280.6 1298.1 L2294.2 1317.8 L2303.8 1337.5 L2316.1 1357.1 L2345.3 1376.8 L2352.7 1396.5 L2340.0 1416.1 L2324.7 1435.8 L2333.5 1455.5 L2346.0 1475.1 L2336.7 1494.8 L2296.3 1514.5 L2300.6 1534.1 L2291.3 1553.8 L2287.0 1573.5 L2317.3 1593.1 L2285.0 1612.8 L2276.7 1632.5 L2331.0 1652.2 L2299.9 1671.8 L2293.7 1691.5 L2314.2 1711.2 L2327.2 1730.8 L2322.7 1750.5 L2290.0 1770.2 L2308.9 1779.4 L2367.6 1787.8 L2490.0 1797.6 L3400.0 1824.0" stroke="#9e342a" stroke-width="10" fill="none" stroke-linejoin="round" stroke-linecap="square"/>
<path d="M2249.8 413.1 L2248.7 432.7 L2249.4 452.4 L2247.8 472.1 L2248.1 491.8 L2248.3 511.4 L2247.9 531.1 L2247.5 550.8 L2249.1 570.4 L2249.0 590.1 L2249.5 609.8 L2248.6 629.4 L2250.1 649.1 L2248.6 668.8 L2248.4 688.4 L2248.7 708.1 L2249.8 727.8 L2249.3 747.4 L2247.9 767.1 L2248.1 786.8 L2247.4 806.4 L2249.5 826.1 L2249.5 845.8 L2247.6 865.4 L2248.6 885.1 L2251.5 904.8 L2250.7 924.4 L2252.3 944.1 L2252.4 963.8 L2252.9 983.4 L2255.0 1003.1 L2255.4 1022.8 L2257.6 1042.5 L2259.3 1062.1 L2258.3 1081.8 L2258.0 1101.5 L2266.0 1121.1 L2258.4 1140.8 L2270.8 1160.5 L2262.6 1180.1 L2272.0 1199.8 L2271.4 1219.5 L2274.5 1239.1 L2270.0 1258.8 L2271.0 1278.5 L2281.5 1298.1 L2305.3 1317.8 L2307.8 1337.5 L2286.0 1357.1 L2294.0 1376.8 L2313.7 1396.5 L2326.6 1416.1 L2323.6 1435.8 L2340.2 1455.5 L2344.2 1475.1 L2318.5 1494.8 L2304.4 1514.5 L2344.0 1534.1 L2320.0 1553.8 L2332.3 1573.5 L2333.0 1593.1 L2322.8 1612.8 L2322.2 1632.5 L2309.2 1652.2 L2309.6 1671.8 L2311.1 1691.5 L2313.1 1711.2 L2332.4 1730.8 L2329.0 1750.5 L2292.0 1770.2 L2271.2 1789.8 L2290.0 1809.5 L2636.0 1827.0 L2625.0 1849.0 L2500.0 1868.5 L2480.0 1872.0" stroke="#a9392e" stroke-width="10" fill="none" stroke-linejoin="round" stroke-linecap="square"/>
<path d="M2250.4 413.1 L2247.5 432.7 L2249.0 452.4 L2248.0 472.1 L2247.9 491.8 L2249.2 511.4 L2248.0 531.1 L2249.3 550.8 L2247.6 570.4 L2248.9 590.1 L2249.1 609.8 L2250.5 629.4 L2248.8 649.1 L2247.4 668.8 L2248.0 688.4 L2248.2 708.1 L2247.4 727.8 L2249.1 747.4 L2247.9 767.1 L2247.4 786.8 L2248.4 806.4 L2248.8 826.1 L2253.5 845.8 L2248.2 865.4 L2247.8 885.1 L2248.6 904.8 L2247.2 924.4 L2247.1 944.1 L2247.6 963.8 L2252.5 983.4 L2252.9 1003.1 L2252.4 1022.8 L2254.1 1042.5 L2258.4 1062.1 L2261.0 1081.8 L2263.5 1101.5 L2266.0 1121.1 L2265.8 1140.8 L2276.0 1160.5 L2280.9 1180.1 L2285.6 1199.8 L2291.0 1219.5 L2280.3 1239.1 L2289.8 1258.8 L2289.9 1278.5 L2305.3 1298.1 L2298.4 1317.8 L2284.0 1337.5 L2286.0 1357.1 L2294.0 1376.8 L2319.8 1396.5 L2321.0 1416.1 L2320.0 1435.8 L2333.5 1455.5 L2328.7 1475.1 L2315.1 1494.8 L2291.0 1514.5 L2288.0 1534.1 L2291.9 1553.8 L2338.9 1573.5 L2305.6 1593.1 L2318.0 1612.8 L2298.6 1632.5 L2331.0 1652.2 L2304.0 1671.8 L2324.1 1691.5 L2290.4 1711.2 L2259.8 1730.8 L2289.9 1750.5 L2259.5 1770.2 L2300.0 1789.8 L2304.7 1800.4 L2321.4 1806.0 L2332.6 1826.9 L2490.0 1831.1 L3400.0 1841.0" stroke="#b53f33" stroke-width="10" fill="none" stroke-linejoin="round" stroke-linecap="square"/>
<path d="M2250.0 413.1 L2248.7 432.7 L2248.0 452.4 L2248.0 472.1 L2248.7 491.8 L2249.7 511.4 L2249.2 531.1 L2249.4 550.8 L2249.3 570.4 L2248.6 590.1 L2248.5 609.8 L2248.7 629.4 L2247.5 649.1 L2248.2 668.8 L2248.3 688.4 L2249.8 708.1 L2248.5 727.8 L2249.0 747.4 L2248.9 767.1 L2248.2 786.8 L2249.1 806.4 L2249.0 826.1 L2253.5 845.8 L2249.8 865.4 L2250.6 885.1 L2251.5 904.8 L2250.7 924.4 L2248.8 944.1 L2250.2 963.8 L2251.6 983.4 L2248.7 1003.1 L2249.9 1022.8 L2250.8 1042.5 L2255.7 1062.1 L2257.4 1081.8 L2263.5 1101.5 L2249.7 1121.1 L2255.7 1140.8 L2272.3 1160.5 L2267.5 1180.1 L2271.6 1199.8 L2274.4 1219.5 L2286.9 1239.1 L2270.9 1258.8 L2283.7 1278.5 L2296.9 1298.1 L2302.7 1317.8 L2307.2 1337.5 L2311.3 1357.1 L2334.8 1376.8 L2320.3 1396.5 L2321.0 1416.1 L2348.5 1435.8 L2354.1 1455.5 L2360.0 1475.1 L2348.0 1494.8 L2341.0 1514.5 L2344.0 1534.1 L2344.6 1553.8 L2338.1 1573.5 L2327.7 1593.1 L2348.0 1612.8 L2341.0 1632.5 L2325.2 1652.2 L2318.4 1671.8 L2344.0 1691.5 L2319.9 1711.2 L2297.8 1730.8 L2324.8 1750.5 L2290.6 1770.2 L2297.6 1789.8 L2299.0 1809.5 L2288.3 1829.2 L2272.6 1848.8 L2297.2 1868.5" stroke="#c14437" stroke-width="10" fill="none" stroke-linejoin="round" stroke-linecap="square"/>
<path d="M2248.8 413.1 L2247.7 432.7 L2248.1 452.4 L2247.5 472.1 L2249.6 491.8 L2248.4 511.4 L2248.8 531.1 L2248.9 550.8 L2248.9 570.4 L2249.6 590.1 L2247.9 609.8 L2248.9 629.4 L2248.7 649.1 L2249.4 668.8 L2250.0 688.4 L2249.0 708.1 L2248.6 727.8 L2249.3 747.4 L2248.5 767.1 L2248.2 786.8 L2247.4 806.4 L2248.1 826.1 L2253.5 845.8 L2247.9 865.4 L2247.9 885.1 L2249.0 904.8 L2248.8 924.4 L2250.9 944.1 L2253.8 963.8 L2252.9 983.4 L2253.8 1003.1 L2251.1 1022.8 L2251.0 1042.5 L2252.1 1062.1 L2259.3 1081.8 L2258.5 1101.5 L2263.1 1121.1 L2264.6 1140.8 L2260.2 1160.5 L2275.5 1180.1 L2270.5 1199.8 L2253.0 1219.5 L2255.2 1239.1 L2261.8 1258.8 L2271.4 1278.5 L2283.1 1298.1 L2294.0 1317.8 L2296.2 1337.5 L2301.7 1357.1 L2339.8 1376.8 L2327.5 1396.5 L2346.3 1416.1 L2337.5 1435.8 L2352.0 1455.5 L2354.6 1475.1 L2331.8 1494.8 L2307.4 1514.5 L2325.9 1534.1 L2306.3 1553.8 L2332.1 1573.5 L2302.8 1593.1 L2316.0 1612.8 L2297.0 1632.5 L2282.9 1652.2 L2272.4 1671.8 L2270.0 1691.5 L2282.8 1711.2 L2276.5 1730.8 L2278.0 1750.5 L2276.6 1770.2 L2261.3 1789.8 L2273.0 1809.5 L2249.0 1829.2 L2282.0 1848.8 L2304.5 1868.5" stroke="#cd4a3b" stroke-width="10" fill="none" stroke-linejoin="round" stroke-linecap="square"/>
<path d="M2249.3 413.1 L2249.9 432.7 L2248.8 452.4 L2249.5 472.1 L2248.8 491.8 L2248.2 511.4 L2248.7 531.1 L2250.3 550.8 L2250.4 570.4 L2249.2 590.1 L2249.8 609.8 L2249.6 629.4 L2249.8 649.1 L2248.9 668.8 L2248.8 688.4 L2248.5 708.1 L2249.0 727.8 L2249.7 747.4 L2249.1 767.1 L2249.1 786.8 L2248.3 806.4 L2247.5 826.1 L2247.4 845.8 L2248.1 865.4 L2250.6 885.1 L2250.9 904.8 L2252.4 924.4 L2253.5 944.1 L2251.0 963.8 L2254.9 983.4 L2248.5 1003.1 L2254.6 1022.8 L2250.8 1042.5 L2259.2 1062.1 L2261.0 1081.8 L2259.9 1101.5 L2262.4 1121.1 L2270.7 1140.8 L2270.9 1160.5 L2265.8 1180.1 L2272.9 1199.8 L2280.4 1219.5 L2290.7 1239.1 L2286.7 1258.8 L2277.6 1278.5 L2304.2 1298.1 L2314.0 1317.8 L2330.0 1337.5 L2346.0 1357.1 L2321.4 1376.8 L2372.5 1396.5 L2342.0 1416.1 L2342.7 1435.8 L2348.6 1455.5 L2340.7 1475.1 L2324.0 1494.8 L2309.4 1514.5 L2317.3 1534.1 L2304.1 1553.8 L2308.2 1573.5 L2289.0 1593.1 L2280.3 1612.8 L2304.5 1632.5 L2303.2 1652.2 L2294.8 1671.8 L2270.0 1691.5 L2277.8 1711.2 L2250.0 1730.8 L2290.7 1748.7 L3136.9 1769.7" stroke="#d84f3f" stroke-width="10" fill="none" stroke-linejoin="round" stroke-linecap="square"/>
<path d="M2248.0 413.1 L2248.0 432.7 L2248.9 452.4 L2248.4 472.1 L2248.6 491.8 L2248.4 511.4 L2248.4 531.1 L2248.1 550.8 L2248.6 570.4 L2247.5 590.1 L2247.5 609.8 L2248.8 629.4 L2248.0 649.1 L2249.5 668.8 L2250.5 688.4 L2248.6 708.1 L2247.8 727.8 L2247.4 747.4 L2248.2 767.1 L2248.0 786.8 L2248.1 806.4 L2247.4 826.1 L2248.8 845.8 L2249.0 865.4 L2247.4 885.1 L2248.6 904.8 L2249.3 924.4 L2247.0 944.1 L2248.6 963.8 L2250.1 983.4 L2250.7 1003.1 L2246.6 1022.8 L2248.4 1042.5 L2246.2 1062.1 L2249.6 1081.8 L2246.5 1101.5 L2248.0 1121.1 L2257.4 1140.8 L2265.7 1160.5 L2270.6 1180.1 L2272.1 1199.8 L2273.6 1219.5 L2262.5 1239.1 L2265.4 1258.8 L2271.8 1278.5 L2277.6 1298.1 L2306.2 1317.8 L2305.2 1337.5 L2350.0 1357.1 L2300.9 1376.8 L2306.0 1396.5 L2325.6 1416.1 L2343.8 1435.8 L2343.9 1455.5 L2341.2 1475.1 L2341.7 1494.8 L2320.9 1514.5 L2342.0 1534.1 L2348.0 1553.8 L2337.1 1573.5 L2322.8 1593.1 L2337.6 1612.8 L2340.0 1632.5 L2299.0 1652.2 L2312.3 1671.8 L2316.6 1691.5 L2331.0 1711.2 L2336.0 1730.8 L2310.0 1752.0 L2620.7 1770.2 L2485.3 1789.8 L2445.5 1809.5 L3400.0 1825.0" stroke="#e45444" stroke-width="10" fill="none" stroke-linejoin="round" stroke-linecap="square"/>
<path d="M2249.4 413.1 L2248.9 432.7 L2249.1 452.4 L2248.0 472.1 L2248.5 491.8 L2248.6 511.4 L2248.5 531.1 L2249.0 550.8 L2248.9 570.4 L2248.8 590.1 L2249.0 609.8 L2248.8 629.4 L2249.3 649.1 L2249.3 668.8 L2249.1 688.4 L2249.6 708.1 L2248.6 727.8 L2247.6 747.4 L2248.8 767.1 L2249.7 786.8 L2249.2 806.4 L2249.6 826.1 L2250.6 845.8 L2250.6 865.4 L2249.2 885.1 L2247.4 904.8 L2248.5 924.4 L2247.7 944.1 L2247.2 963.8 L2246.7 983.4 L2247.2 1003.1 L2247.9 1022.8 L2246.4 1042.5 L2257.1 1062.1 L2261.0 1081.8 L2255.2 1101.5 L2259.3 1121.1 L2255.6 1140.8 L2252.0 1160.5 L2254.3 1180.1 L2259.9 1199.8 L2253.6 1219.5 L2266.6 1239.1 L2274.0 1258.8 L2274.4 1278.5 L2292.4 1298.1 L2298.6 1317.8 L2284.0 1337.5 L2302.9 1357.1 L2307.4 1376.8 L2328.8 1396.5 L2321.0 1416.1 L2322.7 1435.8 L2333.5 1455.5 L2343.5 1475.1 L2324.0 1494.8 L2302.5 1514.5 L2321.7 1534.1 L2303.8 1553.8 L2299.7 1573.5 L2292.6 1593.1 L2290.8 1612.8 L2292.7 1632.5 L2297.3 1652.2 L2313.8 1671.8 L2290.1 1691.5 L2269.1 1711.2 L2289.2 1730.8 L2294.1 1750.5 L2283.8 1770.2 L2277.5 1789.8 L2290.3 1809.5 L2284.3 1829.2 L2276.4 1848.8 L2304.8 1868.5" stroke="#f05a48" stroke-width="10" fill="none" stroke-linejoin="round" stroke-linecap="square"/>
</g>
<rect x="2138.40" y="216.40" width="1222.10" height="1652.10" fill="none" stroke="#fff" stroke-width="5.33"/>
<path d="M2136.40 1789.83 h-10.6" stroke="#fff" stroke-width="2.67"/>
<path d="M2136.40 1593.15 h-10.6" stroke="#fff" stroke-width="2.67"/>
<path d="M2136.40 1396.47 h-10.6" stroke="#fff" stroke-width="2.67"/>
<path d="M2136.40 1199.79 h-10.6" stroke="#fff" stroke-width="2.67"/>
<path d="M2136.40 1003.11 h-10.6" stroke="#fff" stroke-width="2.67"/>
<path d="M2136.40 806.44 h-10.6" stroke="#fff" stroke-width="2.67"/>
<path d="M2136.40 609.76 h-10.6" stroke="#fff" stroke-width="2.67"/>
<path d="M2136.40 413.08 h-10.6" stroke="#fff" stroke-width="2.67"/>
<path d="M2136.40 216.40 h-10.6" stroke="#fff" stroke-width="2.67"/>
<path d="M2249.48 1870.50 v10.6" stroke="#fff" stroke-width="2.67"/>
<path d="M2471.65 1870.50 v10.6" stroke="#fff" stroke-width="2.67"/>
<path d="M2693.81 1870.50 v10.6" stroke="#fff" stroke-width="2.67"/>
<path d="M2915.97 1870.50 v10.6" stroke="#fff" stroke-width="2.67"/>
<path d="M3138.14 1870.50 v10.6" stroke="#fff" stroke-width="2.67"/>
<path d="M3360.30 1870.50 v10.6" stroke="#fff" stroke-width="2.67"/>
<rect x="17.0" y="759.9" width="421.2" height="896.0" rx="8" ry="8" fill="#000" stroke="#a8a8a8" stroke-width="3.33"/>
<path d="M26.9 791.0 h90" stroke="#154c71" stroke-width="10"/>
<path d="M26.9 850.0 h90" stroke="#145178" stroke-width="10"/>
<path d="M26.9 909.0 h90" stroke="#14557f" stroke-width="10"/>
<path d="M26.9 968.0 h90" stroke="#135a85" stroke-width="10"/>
<path d="M26.9 1027.0 h90" stroke="#125e8c" stroke-width="10"/>
<path d="M26.9 1086.0 h90" stroke="#116393" stroke-width="10"/>
<path d="M26.9 1145.0 h90" stroke="#11679a" stroke-width="10"/>
<path d="M26.9 1204.0 h90" stroke="#106ca0" stroke-width="10"/>
<path d="M26.9 1263.0 h90" stroke="#0f71a7" stroke-width="10"/>
<path d="M26.9 1322.0 h90" stroke="#0f75ae" stroke-width="10"/>
<path d="M26.9 1381.0 h90" stroke="#0e7ab5" stroke-width="10"/>
<path d="M26.9 1440.0 h90" stroke="#0d7ebc" stroke-width="10"/>
<path d="M26.9 1499.0 h90" stroke="#0c83c2" stroke-width="10"/>
<path d="M26.9 1558.0 h90" stroke="#0c87c9" stroke-width="10"/>
<path d="M26.9 1617.0 h90" stroke="#0b8cd0" stroke-width="10"/>
<rect x="3381.0" y="759.9" width="416.5" height="896.0" rx="8" ry="8" fill="#000" stroke="#a8a8a8" stroke-width="3.33"/>
<path d="M3391.1 791.0 h90" stroke="#4b0d0c" stroke-width="10"/>
<path d="M3391.1 850.0 h90" stroke="#571210" stroke-width="10"/>
<path d="M3391.1 909.0 h90" stroke="#631815" stroke-width="10"/>
<path d="M3391.1 968.0 h90" stroke="#6e1e19" stroke-width="10"/>
<path d="M3391.1 1027.0 h90" stroke="#7a231d" stroke-width="10"/>
<path d="M3391.1 1086.0 h90" stroke="#862821" stroke-width="10"/>
<path d="M3391.1 1145.0 h90" stroke="#922e26" stroke-width="10"/>
<path d="M3391.1 1204.0 h90" stroke="#9e342a" stroke-width="10"/>
<path d="M3391.1 1263.0 h90" stroke="#a9392e" stroke-width="10"/>
<path d="M3391.1 1322.0 h90" stroke="#b53f33" stroke-width="10"/>
<path d="M3391.1 1381.0 h90" stroke="#c14437" stroke-width="10"/>
<path d="M3391.1 1440.0 h90" stroke="#cd4a3b" stroke-width="10"/>
<path d="M3391.1 1499.0 h90" stroke="#d84f3f" stroke-width="10"/>
<path d="M3391.1 1558.0 h90" stroke="#e45444" stroke-width="10"/>
<path d="M3391.1 1617.0 h90" stroke="#f05a48" stroke-width="10"/>
<path d="M40.1 1980.1 H120" stroke="#fff" stroke-width="10" stroke-dasharray="37 16"/>
<path d="M40.1 2040.3 H120" stroke="#fff" stroke-width="10" stroke-dasharray="10 16.5"/>
<rect x="40.4" y="2085.0" width="80.1" height="28.4" fill="#686b70" stroke="#9a9c9f" stroke-width="2.67"/>
<g id="logo"><path d="M3526 18 H3798 A32 32 0 0 1 3830 50 V235 C3830 300 3754 389 3662 391.5 C3570 389 3494 300 3494 235 V50 A32 32 0 0 1 3526 18 Z" fill="#e25c4e"/>
<path d="M3527 24.7 H3797 A26.3 26.3 0 0 1 3823.3 51 V235 C3823.3 297 3750 382.5 3662 384.8 C3574 382.5 3500.7 297 3500.7 235 V51 A26.3 26.3 0 0 1 3527 24.7 Z" fill="#17598c"/>
<circle cx="3664.0" cy="220.0" r="140.8" fill="#c9cede"/>
<circle cx="3664.0" cy="220.0" r="125.2" fill="#124f82"/>
<clipPath id="disc"><circle cx="3664.0" cy="220.0" r="125.2"/></clipPath>
<g clip-path="url(#disc)">
<circle cx="3050" cy="700" r="791" fill="#186fa8"/>
<circle cx="3050" cy="700" r="777.5" fill="#5a9e6a"/>
<clipPath id="earth"><circle cx="3050" cy="700" r="777.5"/></clipPath><g clip-path="url(#earth)">
<polygon points="3490.0,90.0 3567.2,90.0 3565.4,143.8 3554.6,215.6 3565.4,287.4 3604.9,330.5 3615.6,359.2 3490.0,359.2" fill="#145a90" />
<path d="M3604.6 288.6 C3607.1 282.0 3614.3 292.2 3619.1 295.8 C3624.0 299.4 3628.8 306.9 3633.6 310.3 C3638.5 313.7 3642.8 316.1 3648.1 316.1 C3653.4 316.1 3659.7 310.8 3665.5 310.3 C3671.3 309.8 3677.8 311.5 3682.9 313.2 C3688.0 314.9 3694.0 314.9 3695.9 320.4 C3697.9 326.0 3699.1 340.5 3694.5 346.5 C3689.9 352.6 3680.0 356.2 3668.4 356.7 C3656.8 357.1 3635.6 353.0 3624.9 349.4 C3614.3 345.8 3608.0 345.1 3604.6 334.9 C3601.3 324.8 3602.2 295.1 3604.6 288.6Z" fill="#145a90" />
<path d="M3659.7 221.2 C3656.9 224.8 3665.6 228.5 3666.2 233.5 C3666.9 238.4 3665.5 246.5 3663.8 250.9 C3662.1 255.2 3659.2 256.7 3656.1 259.6 C3653.0 262.5 3647.6 264.4 3645.2 268.3 C3642.8 272.1 3640.7 278.4 3641.6 282.8 C3642.4 287.1 3646.9 291.3 3650.3 294.3 C3653.7 297.4 3659.1 301.6 3661.9 300.9 C3664.7 300.1 3665.1 290.1 3667.0 290.0 C3668.8 289.9 3670.1 298.8 3672.8 300.1 C3675.4 301.5 3680.0 297.0 3682.9 298.0 C3685.8 298.9 3687.0 306.1 3690.1 305.9 C3693.3 305.8 3698.1 299.7 3701.7 297.2 C3705.4 294.8 3705.4 292.4 3711.9 291.4 C3718.4 290.5 3738.5 298.7 3740.9 291.4 C3743.3 284.2 3736.0 261.3 3726.4 248.0 C3716.7 234.7 3694.0 216.2 3682.9 211.7 C3671.8 207.3 3662.5 217.5 3659.7 221.2Z" fill="#145a90" />
<path d="M3621.3 201.6 C3621.8 199.7 3624.8 197.7 3626.4 198.7 C3627.9 199.7 3628.8 206.2 3630.7 207.4 C3632.7 208.6 3635.8 205.0 3638.0 205.9 C3640.1 206.9 3643.5 210.3 3643.8 213.2 C3644.0 216.1 3641.1 222.9 3639.4 223.3 C3637.7 223.8 3635.6 217.1 3633.6 216.1 C3631.7 215.1 3629.5 218.5 3627.8 217.5 C3626.1 216.6 3624.6 212.9 3623.5 210.3 C3622.4 207.6 3620.8 203.5 3621.3 201.6Z" fill="#145a90" />
<path d="M3646.7 204.5 C3647.5 203.3 3651.0 205.0 3651.7 207.4 C3652.5 209.8 3651.9 217.8 3651.0 219.0 C3650.2 220.2 3647.4 217.1 3646.7 214.6 C3645.9 212.2 3645.8 205.7 3646.7 204.5Z" fill="#145a90" />
<path d="M3609.0 290.0 C3609.2 289.3 3616.2 294.6 3619.1 297.2 C3622.0 299.9 3626.6 305.2 3626.4 305.9 C3626.1 306.7 3620.6 304.3 3617.7 301.6 C3614.8 298.9 3608.7 290.7 3609.0 290.0Z" fill="#5a9e6a" />
</g>
<path d="M3716.5 190.5 L3650.5 165.5" stroke="#dfeaf5" stroke-width="1.1" fill="none"/>
<path d="M3716.5 190.5 L3656.5 160.0" stroke="#dfeaf5" stroke-width="1.1" fill="none"/>
<path d="M3716.5 190.5 L3669.9 226.2" stroke="#dfeaf5" stroke-width="1.1" fill="none"/>
<path d="M3716.5 190.5 L3674.9 233.5" stroke="#dfeaf5" stroke-width="1.1" fill="none"/>
<path d="M3716.5 190.5 L3722.0 262.5" stroke="#dfeaf5" stroke-width="1.1" fill="none"/>
<path d="M3716.5 190.5 L3743.5 259.5" stroke="#dfeaf5" stroke-width="1.1" fill="none"/>
<path d="M3604.9 149.2 L3732.2 324.8" stroke="#dfeaf5" stroke-width="1.1" fill="none"/>
<path d="M3604.9 149.2 L3622.8 169.0" stroke="#dfeaf5" stroke-width="1.1" fill="none"/>
<circle cx="3637.2" cy="144.2" r="23.8" fill="#eceef3"/>
<path d="M3614.7 137.2 a23.8 23.8 0 0 0 30 34 a30 30 0 0 1 -30 -34Z" fill="#c4c7d3"/>
<circle cx="3633.2" cy="132.2" r="5.0" fill="#bfc2cf"/>
<circle cx="3643.2" cy="135.2" r="6.0" fill="#bfc2cf"/>
<circle cx="3646.2" cy="147.2" r="5.5" fill="#bfc2cf"/>
<circle cx="3636.2" cy="144.2" r="4.0" fill="#bfc2cf"/>
<circle cx="3629.2" cy="139.2" r="3.5" fill="#bfc2cf"/>
<circle cx="3640.2" cy="154.2" r="3.0" fill="#bfc2cf"/>
<circle cx="3735.0" cy="281.0" r="23.2" fill="#fbdc98"/>
<path d="M3718.0 265.5 a23.2 23.2 0 0 0 14 39 a40 40 0 0 1 -14 -39Z" fill="#cfcfd8"/>
<path d="M3693.1 107.7 L3694.3 115.0 L3701.6 116.2 L3694.3 117.4 L3693.1 124.7 L3691.9 117.4 L3684.6 116.2 L3691.9 115.0Z" fill="#fbe1a0"/>
<path d="M3680.1 121.9 L3680.9 126.6 L3685.6 127.4 L3680.9 128.2 L3680.1 132.9 L3679.3 128.2 L3674.6 127.4 L3679.3 126.6Z" fill="#eef4fb"/>
<path d="M3703.6 127.3 L3704.2 130.7 L3707.6 131.3 L3704.2 131.9 L3703.6 135.3 L3703.0 131.9 L3699.6 131.3 L3703.0 130.7Z" fill="#eef4fb"/>
<g transform="translate(3728.0 181.5) rotate(42)" fill="#c3c6cf">
<rect x="-28.5" y="-17" width="3.3" height="34"/>
<rect x="11.1" y="-17" width="3.3" height="34"/>
<rect x="-23.8" y="-17" width="3.3" height="34"/>
<rect x="15.8" y="-17" width="3.3" height="34"/>
<rect x="-19.1" y="-17" width="3.3" height="34"/>
<rect x="20.5" y="-17" width="3.3" height="34"/>
<rect x="-14.4" y="-17" width="3.3" height="34"/>
<rect x="25.2" y="-17" width="3.3" height="34"/>
<rect x="-30" y="-1.3" width="60" height="2.6" />
<rect x="-7" y="-9" width="2.6" height="18"/><rect x="-1.5" y="-11" width="2.6" height="22"/><rect x="4" y="-8" width="2.4" height="16"/><rect x="-9" y="-5.5" width="16" height="1.8"/><rect x="-9" y="4" width="16" height="1.8"/>
</g>
</g>
<path d="M3543.8 151.9 C3540.4 151.0 3533.1 158.9 3528.6 165.4 C3524.1 171.8 3519.9 181.2 3516.9 190.5 C3513.9 199.8 3513.1 212.3 3510.6 221.0 C3508.2 229.7 3502.1 239.4 3502.2 242.5 C3502.4 245.7 3507.6 242.5 3511.5 239.9 C3515.5 237.2 3521.7 231.6 3525.9 226.4 C3530.1 221.2 3533.7 214.4 3536.7 208.4 C3539.7 202.5 3541.7 196.8 3543.8 190.5 C3545.9 184.2 3549.2 177.2 3549.2 170.8 C3549.2 164.3 3547.3 152.8 3543.8 151.9Z" fill="#b93a2e" />
<path d="M3543.8 152.8 C3542.6 150.7 3535.8 160.9 3532.2 167.2 C3528.6 173.5 3524.8 181.8 3522.3 190.5 C3519.8 199.2 3519.0 211.7 3516.9 219.2 C3514.8 226.7 3509.1 234.8 3509.7 235.4 C3510.3 236.0 3516.9 228.5 3520.5 222.8 C3524.1 217.1 3528.1 208.4 3531.3 201.3 C3534.4 194.1 3537.3 187.8 3539.4 179.7 C3541.4 171.7 3545.0 154.9 3543.8 152.8Z" fill="#ee6a58" />
<path d="M3549.2 151.0 C3553.6 146.5 3560.3 145.6 3567.2 147.4 C3574.1 149.2 3583.9 158.2 3590.5 161.8 C3597.1 165.4 3603.7 164.2 3606.7 169.0 C3609.6 173.8 3608.4 182.7 3608.4 190.5 C3608.4 198.3 3606.8 202.5 3606.7 215.6 C3606.5 228.8 3607.3 250.0 3607.6 269.5 C3607.8 289.0 3610.9 324.0 3608.1 332.6 C3605.2 341.3 3596.1 325.3 3590.5 321.5 C3584.9 317.7 3579.1 314.3 3574.4 309.8 C3569.6 305.4 3565.8 301.9 3561.8 294.6 C3557.7 287.3 3554.1 275.5 3550.1 265.9 C3546.2 256.3 3539.6 246.7 3538.1 237.2 C3536.6 227.6 3539.6 216.2 3541.1 208.4 C3542.7 200.7 3547.4 196.2 3547.4 190.5 C3547.4 184.8 3540.8 180.9 3541.1 174.4 C3541.4 167.8 3544.9 155.5 3549.2 151.0Z" fill="#dc5143" />
<path d="M3574.4 226.4 L3590.5 319.7" stroke="#a93429" stroke-width="3.2" stroke-linecap="round"/>
<path d="M3561.8 226.4 L3574.4 308.1" stroke="#a93429" stroke-width="3.2" stroke-linecap="round"/>
<path d="M3586.9 230.0 L3601.3 326.9" stroke="#a93429" stroke-width="3.2" stroke-linecap="round"/>
<path d="M3551.0 226.4 L3561.8 287.4" stroke="#a93429" stroke-width="3.2" stroke-linecap="round"/>
<path d="M3597.7 233.6 L3606.3 305.4" stroke="#a93429" stroke-width="3.2" stroke-linecap="round"/>
<path d="M3549.2 183.3 C3550.4 178.8 3559.7 173.2 3565.4 174.4 C3571.1 175.5 3576.7 187.8 3583.3 190.5 C3589.9 193.2 3601.3 188.1 3604.9 190.5 C3608.4 192.9 3609.0 202.5 3604.9 204.9 C3600.7 207.3 3587.5 205.5 3579.7 204.9 C3572.0 204.3 3563.3 204.9 3558.2 201.3 C3553.1 197.7 3548.0 187.8 3549.2 183.3Z" fill="#c4463a" />
<path d="M3554.6 207.6 Q3576.1 219.2 3604.9 221.9" stroke="#8a4a22" stroke-width="4" fill="none"/>
<polygon points="3586.0,218.3 3593.2,213.8 3602.2,216.5 3603.1,226.4 3595.9,231.8 3587.8,228.2" fill="#b0632a" />
<polygon points="3588.7,219.6 3593.7,216.5 3599.8,218.3 3600.6,225.0 3595.5,228.5 3590.1,226.4" fill="#6e2f1c" />
<polygon points="3602.2,165.4 3615.6,169.9 3613.8,179.7 3604.9,190.5 3600.4,186.9" fill="#7a3a20" />
<path d="M3607.6 179.7 C3609.0 177.8 3614.1 174.9 3615.6 176.1 C3617.1 177.3 3617.4 184.2 3616.5 186.9 C3615.6 189.6 3611.9 192.1 3610.2 192.3 C3608.6 192.4 3607.1 189.9 3606.7 187.8 C3606.2 185.7 3606.1 181.7 3607.6 179.7Z" fill="#e0a86e" />
<path d="M3560.9 145.6 C3560.9 141.3 3565.2 138.5 3569.0 135.8 C3572.7 133.1 3578.5 130.7 3583.3 129.5 C3588.1 128.3 3593.9 127.7 3597.7 128.6 C3601.4 129.5 3605.8 132.9 3605.8 134.9 C3605.8 136.8 3600.2 138.2 3597.7 140.3 C3595.1 142.3 3590.5 143.8 3590.5 147.4 C3590.5 151.0 3596.2 157.3 3597.7 161.8 C3599.2 166.3 3600.4 169.7 3599.5 174.4 C3598.6 179.0 3595.0 187.5 3592.3 189.6 C3589.6 191.7 3586.0 189.5 3583.3 186.9 C3580.6 184.4 3578.5 178.5 3576.1 174.4 C3573.8 170.2 3571.5 166.6 3569.0 161.8 C3566.4 157.0 3560.9 150.0 3560.9 145.6Z" fill="#f4f4f6" />
<path d="M3587.8 138.5 C3588.9 135.8 3593.5 134.4 3595.9 134.9 C3598.3 135.3 3601.4 138.3 3602.2 141.1 C3602.9 144.0 3601.6 149.4 3600.4 151.9 C3599.2 154.5 3596.8 156.6 3595.0 156.4 C3593.2 156.3 3590.8 154.0 3589.6 151.0 C3588.4 148.0 3586.8 141.1 3587.8 138.5Z" fill="#d9a46c" />
<path d="M3590.5 157.3 C3591.1 156.0 3596.1 154.8 3597.7 155.5 C3599.2 156.3 3600.4 160.4 3599.8 161.8 C3599.2 163.1 3595.6 164.3 3594.1 163.6 C3592.5 162.8 3589.9 158.6 3590.5 157.3Z" fill="#f4f4f6" />
<path d="M3534.5 122.3 L3542.4 174.4 L3551.0 251.5 L3560.4 271.3 L3562.7 294.6" stroke="#a85a1e" stroke-width="4.4" fill="none" stroke-linejoin="round"/>
<path d="M3535.2 122.3 L3543.1 174.4 L3551.7 251.5 L3561.1 271.3 L3563.4 294.6" stroke="#dca052" stroke-width="1.4" fill="none" stroke-linejoin="round"/>
<circle cx="3532.4" cy="113.7" r="10.4" fill="#f3f4f8"/>
<circle cx="3533.6" cy="113.0" r="8.6" fill="#ccd0dc"/>
<path d="M3530.4 176.1 C3532.5 174.1 3539.1 172.0 3542.0 172.6 C3545.0 173.2 3548.0 176.7 3548.3 179.7 C3548.6 182.7 3546.1 188.6 3543.8 190.5 C3541.6 192.4 3537.3 192.3 3534.9 191.4 C3532.5 190.5 3530.2 187.7 3529.5 185.1 C3528.7 182.6 3528.3 178.2 3530.4 176.1Z" fill="#e0a86e" />
<text transform="translate(3526.23 58.90) scale(1.0140 1)" font-family="'Liberation Serif', serif" font-size="41.53" font-weight="bold" fill="#fff">SAGE III · ISS</text>
<text transform="translate(3527.23 72.20) scale(0.9400 1)" font-family="'Liberation Sans', sans-serif" font-size="9.24" font-weight="normal" fill="#d4e2f0">Stratospheric Aerosol and Gas Experiment III</text>
<text transform="translate(3736.03 72.20) scale(0.9876 1)" font-family="'Liberation Sans', sans-serif" font-size="9.96" font-weight="normal" fill="#d4e2f0">International</text>
<text transform="translate(3732.90 83.40) scale(0.9784 1)" font-family="'Liberation Sans', sans-serif" font-size="9.96" font-weight="normal" fill="#d4e2f0">Space Station</text>
<path id="arc" d="M3507.5 150 V235 C3507.5 296 3577 375.7 3662 378.0 C3747 375.7 3816.5 296 3816.5 235 V150" fill="none"/>
<text font-family="'Liberation Sans', sans-serif" font-weight="bold" font-size="13.65" fill="#fff" letter-spacing="0.968"><textPath href="#arc" startOffset="109.8">BALL • NASA LANGLEY RESEARCH CENTER • TAS-I • ESA</textPath></text></g>
<text transform="translate(965.00 102.20) scale(0.9446 1)" font-family="'Liberation Sans', sans-serif" font-size="81.07" font-weight="bold" fill="#fff" stroke="#fff" stroke-width="1.95" stroke-linejoin="round">SAGE</text>
<text transform="translate(1211.15 102.20) scale(0.8588 1)" font-family="'Liberation Mono', monospace" font-size="84.84" font-weight="bold" fill="#fff" stroke="#fff" stroke-width="2.04" stroke-linejoin="round">III</text>
<text transform="translate(1343.72 109.47) skewX(-17.78)" font-family="'Liberation Sans', sans-serif" font-size="87.51" font-weight="bold" fill="#fff" stroke="#fff" stroke-width="2.10" stroke-linejoin="round">/</text>
<text transform="translate(1394.03 102.20) scale(0.8424 1)" font-family="'Liberation Mono', monospace" font-size="84.84" font-weight="bold" fill="#fff" stroke="#fff" stroke-width="2.04" stroke-linejoin="round">I</text>
<text transform="translate(1439.89 102.20) scale(0.8727 1)" font-family="'Liberation Sans', sans-serif" font-size="81.07" font-weight="bold" fill="#fff" stroke="#fff" stroke-width="1.95" stroke-linejoin="round">SS</text>
<text transform="translate(1561.21 102.20) scale(1.0631 1)" font-family="'Liberation Sans', sans-serif" font-size="81.07" font-weight="bold" fill="#fff" stroke="#fff" stroke-width="1.95" stroke-linejoin="round">602nm</text>
<text transform="translate(1858.22 102.20) scale(1.0140 1)" font-family="'Liberation Sans', sans-serif" font-size="81.07" font-weight="bold" fill="#fff" stroke="#fff" stroke-width="1.95" stroke-linejoin="round">Aerosol</text>
<text transform="translate(2191.81 102.20) scale(1.0438 1)" font-family="'Liberation Sans', sans-serif" font-size="81.07" font-weight="bold" fill="#fff" stroke="#fff" stroke-width="1.95" stroke-linejoin="round">Extinction</text>
<text transform="translate(2627.54 102.20) scale(1.0485 1)" font-family="'Liberation Sans', sans-serif" font-size="81.07" font-weight="bold" fill="#fff" stroke="#fff" stroke-width="1.95" stroke-linejoin="round">Coefficient</text>
<text transform="translate(1635.29 189.60) scale(1.0175 1)" font-family="'Liberation Sans', sans-serif" font-size="80.36" font-weight="bold" fill="#fff" stroke="#fff" stroke-width="1.93" stroke-linejoin="round">16</text>
<text transform="translate(1753.44 189.60) scale(1.0682 1)" font-family="'Liberation Sans', sans-serif" font-size="80.36" font-weight="bold" fill="#fff" stroke="#fff" stroke-width="1.93" stroke-linejoin="round">November</text>
<text transform="translate(2201.81 189.60) scale(1.0732 1)" font-family="'Liberation Sans', sans-serif" font-size="80.36" font-weight="bold" fill="#fff" stroke="#fff" stroke-width="1.93" stroke-linejoin="round">2024</text>
<text transform="translate(1159.04 196.10) scale(1.0119 1)" font-family="'Liberation Sans', sans-serif" font-size="67.13" font-weight="bold" fill="#fff" stroke="#fff" stroke-width="1.61" stroke-linejoin="round">Sunrise</text>
<text transform="translate(2637.56 196.10) scale(0.9945 1)" font-family="'Liberation Sans', sans-serif" font-size="67.13" font-weight="bold" fill="#fff" stroke="#fff" stroke-width="1.61" stroke-linejoin="round">Sunset</text>
<text transform="translate(594.73 233.00) scale(0.9986 1)" font-family="'Liberation Sans', sans-serif" font-size="47.22" font-weight="normal" fill="#fff" stroke="#fff" stroke-width="0.61" stroke-linejoin="round">50</text>
<text transform="translate(594.65 429.68) scale(1.0147 1)" font-family="'Liberation Sans', sans-serif" font-size="47.22" font-weight="normal" fill="#fff" stroke="#fff" stroke-width="0.61" stroke-linejoin="round">45</text>
<text transform="translate(592.63 626.36) scale(1.0394 1)" font-family="'Liberation Sans', sans-serif" font-size="47.22" font-weight="normal" fill="#fff" stroke="#fff" stroke-width="0.61" stroke-linejoin="round">40</text>
<text transform="translate(600.06 823.04) scale(0.9078 1)" font-family="'Liberation Sans', sans-serif" font-size="47.22" font-weight="normal" fill="#fff" stroke="#fff" stroke-width="0.61" stroke-linejoin="round">35</text>
<text transform="translate(597.20 1019.71) scale(0.9505 1)" font-family="'Liberation Sans', sans-serif" font-size="47.22" font-weight="normal" fill="#fff" stroke="#fff" stroke-width="0.61" stroke-linejoin="round">30</text>
<text transform="translate(600.30 1216.39) scale(0.9030 1)" font-family="'Liberation Sans', sans-serif" font-size="47.22" font-weight="normal" fill="#fff" stroke="#fff" stroke-width="0.61" stroke-linejoin="round">25</text>
<text transform="translate(595.52 1413.07) scale(0.9831 1)" font-family="'Liberation Sans', sans-serif" font-size="47.22" font-weight="normal" fill="#fff" stroke="#fff" stroke-width="0.61" stroke-linejoin="round">20</text>
<text transform="translate(601.72 1609.75) scale(0.8750 1)" font-family="'Liberation Sans', sans-serif" font-size="47.22" font-weight="normal" fill="#fff" stroke="#fff" stroke-width="0.61" stroke-linejoin="round">15</text>
<text transform="translate(599.95 1806.43) scale(0.8968 1)" font-family="'Liberation Sans', sans-serif" font-size="47.22" font-weight="normal" fill="#fff" stroke="#fff" stroke-width="0.61" stroke-linejoin="round">10</text>
<text transform="translate(2060.73 233.00) scale(0.9986 1)" font-family="'Liberation Sans', sans-serif" font-size="47.22" font-weight="normal" fill="#fff" stroke="#fff" stroke-width="0.61" stroke-linejoin="round">50</text>
<text transform="translate(2060.65 429.68) scale(1.0147 1)" font-family="'Liberation Sans', sans-serif" font-size="47.22" font-weight="normal" fill="#fff" stroke="#fff" stroke-width="0.61" stroke-linejoin="round">45</text>
<text transform="translate(2058.63 626.36) scale(1.0394 1)" font-family="'Liberation Sans', sans-serif" font-size="47.22" font-weight="normal" fill="#fff" stroke="#fff" stroke-width="0.61" stroke-linejoin="round">40</text>
<text transform="translate(2066.06 823.04) scale(0.9078 1)" font-family="'Liberation Sans', sans-serif" font-size="47.22" font-weight="normal" fill="#fff" stroke="#fff" stroke-width="0.61" stroke-linejoin="round">35</text>
<text transform="translate(2063.20 1019.71) scale(0.9505 1)" font-family="'Liberation Sans', sans-serif" font-size="47.22" font-weight="normal" fill="#fff" stroke="#fff" stroke-width="0.61" stroke-linejoin="round">30</text>
<text transform="translate(2066.30 1216.39) scale(0.9030 1)" font-family="'Liberation Sans', sans-serif" font-size="47.22" font-weight="normal" fill="#fff" stroke="#fff" stroke-width="0.61" stroke-linejoin="round">25</text>
<text transform="translate(2061.52 1413.07) scale(0.9831 1)" font-family="'Liberation Sans', sans-serif" font-size="47.22" font-weight="normal" fill="#fff" stroke="#fff" stroke-width="0.61" stroke-linejoin="round">20</text>
<text transform="translate(2067.72 1609.75) scale(0.8750 1)" font-family="'Liberation Sans', sans-serif" font-size="47.22" font-weight="normal" fill="#fff" stroke="#fff" stroke-width="0.61" stroke-linejoin="round">15</text>
<text transform="translate(2065.95 1806.43) scale(0.8968 1)" font-family="'Liberation Sans', sans-serif" font-size="47.22" font-weight="normal" fill="#fff" stroke="#fff" stroke-width="0.61" stroke-linejoin="round">10</text>
<text transform="translate(720.95 1927.00) scale(1.0452 1)" font-family="'Liberation Sans', sans-serif" font-size="46.93" font-weight="normal" fill="#fff" stroke="#fff" stroke-width="0.61" stroke-linejoin="round">0.000</text>
<text transform="translate(943.97 1927.00) scale(1.0370 1)" font-family="'Liberation Sans', sans-serif" font-size="46.93" font-weight="normal" fill="#fff" stroke="#fff" stroke-width="0.61" stroke-linejoin="round">0.002</text>
<text transform="translate(1164.92 1927.00) scale(1.0513 1)" font-family="'Liberation Sans', sans-serif" font-size="46.93" font-weight="normal" fill="#fff" stroke="#fff" stroke-width="0.61" stroke-linejoin="round">0.004</text>
<text transform="translate(1389.07 1927.00) scale(1.0239 1)" font-family="'Liberation Sans', sans-serif" font-size="46.93" font-weight="normal" fill="#fff" stroke="#fff" stroke-width="0.61" stroke-linejoin="round">0.006</text>
<text transform="translate(1610.72 1927.00) scale(1.0326 1)" font-family="'Liberation Sans', sans-serif" font-size="46.93" font-weight="normal" fill="#fff" stroke="#fff" stroke-width="0.61" stroke-linejoin="round">0.008</text>
<text transform="translate(1835.46 1927.00) scale(0.9825 1)" font-family="'Liberation Sans', sans-serif" font-size="46.93" font-weight="normal" fill="#fff" stroke="#fff" stroke-width="0.61" stroke-linejoin="round">0.010</text>
<text transform="translate(2186.75 1927.00) scale(1.0452 1)" font-family="'Liberation Sans', sans-serif" font-size="46.93" font-weight="normal" fill="#fff" stroke="#fff" stroke-width="0.61" stroke-linejoin="round">0.000</text>
<text transform="translate(2409.77 1927.00) scale(1.0370 1)" font-family="'Liberation Sans', sans-serif" font-size="46.93" font-weight="normal" fill="#fff" stroke="#fff" stroke-width="0.61" stroke-linejoin="round">0.002</text>
<text transform="translate(2630.72 1927.00) scale(1.0513 1)" font-family="'Liberation Sans', sans-serif" font-size="46.93" font-weight="normal" fill="#fff" stroke="#fff" stroke-width="0.61" stroke-linejoin="round">0.004</text>
<text transform="translate(2854.87 1927.00) scale(1.0239 1)" font-family="'Liberation Sans', sans-serif" font-size="46.93" font-weight="normal" fill="#fff" stroke="#fff" stroke-width="0.61" stroke-linejoin="round">0.006</text>
<text transform="translate(3076.52 1927.00) scale(1.0326 1)" font-family="'Liberation Sans', sans-serif" font-size="46.93" font-weight="normal" fill="#fff" stroke="#fff" stroke-width="0.61" stroke-linejoin="round">0.008</text>
<text transform="translate(3301.26 1927.00) scale(0.9825 1)" font-family="'Liberation Sans', sans-serif" font-size="46.93" font-weight="normal" fill="#fff" stroke="#fff" stroke-width="0.61" stroke-linejoin="round">0.010</text>
<text transform="translate(853.30 2002.70) scale(1.0730 1)" font-family="'Liberation Sans', sans-serif" font-size="59.73" font-weight="normal" fill="#fff" stroke="#fff" stroke-width="0.78" stroke-linejoin="round">Aerosol</text>
<text transform="translate(1087.05 2002.70) scale(1.1249 1)" font-family="'Liberation Sans', sans-serif" font-size="59.73" font-weight="normal" fill="#fff" stroke="#fff" stroke-width="0.78" stroke-linejoin="round">Extinction</text>
<text transform="translate(1394.12 2002.70) scale(1.1352 1)" font-family="'Liberation Sans', sans-serif" font-size="59.73" font-weight="normal" fill="#fff" stroke="#fff" stroke-width="0.78" stroke-linejoin="round">Coefficient</text>
<text transform="translate(1186.49 2076.60) scale(1.1734 1)" font-family="'Liberation Sans', sans-serif" font-size="58.83" font-weight="normal" fill="#fff" stroke="#fff" stroke-width="0.76" stroke-linejoin="round">[</text>
<text transform="translate(1210.36 2076.60) scale(1.1256 1)" font-family="'Liberation Sans', sans-serif" font-size="58.83" font-weight="normal" fill="#fff" stroke="#fff" stroke-width="0.76" stroke-linejoin="round">km</text>
<text transform="translate(1302.77 2055.40) scale(1.2859 1)" font-family="'Liberation Serif', serif" font-size="41.97" font-weight="normal" fill="#fff" stroke="#fff" stroke-width="0.00" stroke-linejoin="round">−</text>
<text transform="translate(1334.64 2055.40) scale(0.9022 1)" font-family="'Liberation Serif', serif" font-size="41.97" font-weight="normal" fill="#fff" stroke="#fff" stroke-width="0.00" stroke-linejoin="round">1</text>
<text transform="translate(1362.90 2076.60) scale(1.2123 1)" font-family="'Liberation Sans', sans-serif" font-size="58.83" font-weight="normal" fill="#fff" stroke="#fff" stroke-width="0.76" stroke-linejoin="round">]</text>
<text transform="translate(559.50 1232.70) rotate(-90) scale(1.1067 1)" font-family="'Liberation Sans', sans-serif" font-size="61.16" font-weight="normal" fill="#fff" stroke="#fff" stroke-width="0.80" stroke-linejoin="round">Altitude</text>
<text transform="translate(559.50 988.43) rotate(-90) scale(1.1854 1)" font-family="'Liberation Sans', sans-serif" font-size="61.16" font-weight="normal" fill="#fff" stroke="#fff" stroke-width="0.80" stroke-linejoin="round">[km]</text>
<text transform="translate(2319.10 2002.70) scale(1.0730 1)" font-family="'Liberation Sans', sans-serif" font-size="59.73" font-weight="normal" fill="#fff" stroke="#fff" stroke-width="0.78" stroke-linejoin="round">Aerosol</text>
<text transform="translate(2552.85 2002.70) scale(1.1249 1)" font-family="'Liberation Sans', sans-serif" font-size="59.73" font-weight="normal" fill="#fff" stroke="#fff" stroke-width="0.78" stroke-linejoin="round">Extinction</text>
<text transform="translate(2859.92 2002.70) scale(1.1352 1)" font-family="'Liberation Sans', sans-serif" font-size="59.73" font-weight="normal" fill="#fff" stroke="#fff" stroke-width="0.78" stroke-linejoin="round">Coefficient</text>
<text transform="translate(2652.29 2076.60) scale(1.1734 1)" font-family="'Liberation Sans', sans-serif" font-size="58.83" font-weight="normal" fill="#fff" stroke="#fff" stroke-width="0.76" stroke-linejoin="round">[</text>
<text transform="translate(2676.16 2076.60) scale(1.1256 1)" font-family="'Liberation Sans', sans-serif" font-size="58.83" font-weight="normal" fill="#fff" stroke="#fff" stroke-width="0.76" stroke-linejoin="round">km</text>
<text transform="translate(2768.57 2055.40) scale(1.2859 1)" font-family="'Liberation Serif', serif" font-size="41.97" font-weight="normal" fill="#fff" stroke="#fff" stroke-width="0.00" stroke-linejoin="round">−</text>
<text transform="translate(2800.44 2055.40) scale(0.9022 1)" font-family="'Liberation Serif', serif" font-size="41.97" font-weight="normal" fill="#fff" stroke="#fff" stroke-width="0.00" stroke-linejoin="round">1</text>
<text transform="translate(2828.70 2076.60) scale(1.2123 1)" font-family="'Liberation Sans', sans-serif" font-size="58.83" font-weight="normal" fill="#fff" stroke="#fff" stroke-width="0.76" stroke-linejoin="round">]</text>
<text transform="translate(2025.30 1232.70) rotate(-90) scale(1.1067 1)" font-family="'Liberation Sans', sans-serif" font-size="61.16" font-weight="normal" fill="#fff" stroke="#fff" stroke-width="0.80" stroke-linejoin="round">Altitude</text>
<text transform="translate(2025.30 988.43) rotate(-90) scale(1.1854 1)" font-family="'Liberation Sans', sans-serif" font-size="61.16" font-weight="normal" fill="#fff" stroke="#fff" stroke-width="0.80" stroke-linejoin="round">[km]</text>
<text transform="translate(144.44 805.00) scale(0.9740 1)" font-family="'Liberation Sans', sans-serif" font-size="40.82" font-weight="normal" fill="#fff" stroke="#fff" stroke-width="0.53" stroke-linejoin="round">2024111601SR</text>
<text transform="translate(144.40 864.00) scale(0.9904 1)" font-family="'Liberation Sans', sans-serif" font-size="40.82" font-weight="normal" fill="#fff" stroke="#fff" stroke-width="0.53" stroke-linejoin="round">2024111604SR</text>
<text transform="translate(144.43 923.00) scale(0.9788 1)" font-family="'Liberation Sans', sans-serif" font-size="40.82" font-weight="normal" fill="#fff" stroke="#fff" stroke-width="0.53" stroke-linejoin="round">2024111607SR</text>
<text transform="translate(144.44 982.00) scale(0.9729 1)" font-family="'Liberation Sans', sans-serif" font-size="40.82" font-weight="normal" fill="#fff" stroke="#fff" stroke-width="0.53" stroke-linejoin="round">2024111610SR</text>
<text transform="translate(144.46 1041.00) scale(0.9598 1)" font-family="'Liberation Sans', sans-serif" font-size="40.82" font-weight="normal" fill="#fff" stroke="#fff" stroke-width="0.53" stroke-linejoin="round">2024111613SR</text>
<text transform="translate(144.46 1100.00) scale(0.9638 1)" font-family="'Liberation Sans', sans-serif" font-size="40.82" font-weight="normal" fill="#fff" stroke="#fff" stroke-width="0.53" stroke-linejoin="round">2024111616SR</text>
<text transform="translate(144.46 1159.00) scale(0.9638 1)" font-family="'Liberation Sans', sans-serif" font-size="40.82" font-weight="normal" fill="#fff" stroke="#fff" stroke-width="0.53" stroke-linejoin="round">2024111619SR</text>
<text transform="translate(144.44 1218.00) scale(0.9722 1)" font-family="'Liberation Sans', sans-serif" font-size="40.82" font-weight="normal" fill="#fff" stroke="#fff" stroke-width="0.53" stroke-linejoin="round">2024111625SR</text>
<text transform="translate(144.43 1277.00) scale(0.9755 1)" font-family="'Liberation Sans', sans-serif" font-size="40.82" font-weight="normal" fill="#fff" stroke="#fff" stroke-width="0.53" stroke-linejoin="round">2024111628SR</text>
<text transform="translate(144.46 1336.00) scale(0.9598 1)" font-family="'Liberation Sans', sans-serif" font-size="40.82" font-weight="normal" fill="#fff" stroke="#fff" stroke-width="0.53" stroke-linejoin="round">2024111631SR</text>
<text transform="translate(144.43 1395.00) scale(0.9777 1)" font-family="'Liberation Sans', sans-serif" font-size="40.82" font-weight="normal" fill="#fff" stroke="#fff" stroke-width="0.53" stroke-linejoin="round">2024111634SR</text>
<text transform="translate(144.45 1454.00) scale(0.9675 1)" font-family="'Liberation Sans', sans-serif" font-size="40.82" font-weight="normal" fill="#fff" stroke="#fff" stroke-width="0.53" stroke-linejoin="round">2024111637SR</text>
<text transform="translate(144.40 1513.00) scale(0.9919 1)" font-family="'Liberation Sans', sans-serif" font-size="40.82" font-weight="normal" fill="#fff" stroke="#fff" stroke-width="0.53" stroke-linejoin="round">2024111640SR</text>
<text transform="translate(144.40 1572.00) scale(0.9941 1)" font-family="'Liberation Sans', sans-serif" font-size="40.82" font-weight="normal" fill="#fff" stroke="#fff" stroke-width="0.53" stroke-linejoin="round">2024111644SR</text>
<text transform="translate(144.42 1631.00) scale(0.9813 1)" font-family="'Liberation Sans', sans-serif" font-size="40.82" font-weight="normal" fill="#fff" stroke="#fff" stroke-width="0.53" stroke-linejoin="round">2024111647SR</text>
<text transform="translate(3508.33 805.00) scale(0.9777 1)" font-family="'Liberation Sans', sans-serif" font-size="40.82" font-weight="normal" fill="#fff" stroke="#fff" stroke-width="0.53" stroke-linejoin="round">2024111603SS</text>
<text transform="translate(3508.32 864.00) scale(0.9835 1)" font-family="'Liberation Sans', sans-serif" font-size="40.82" font-weight="normal" fill="#fff" stroke="#fff" stroke-width="0.53" stroke-linejoin="round">2024111606SS</text>
<text transform="translate(3508.32 923.00) scale(0.9810 1)" font-family="'Liberation Sans', sans-serif" font-size="40.82" font-weight="normal" fill="#fff" stroke="#fff" stroke-width="0.53" stroke-linejoin="round">2024111609SS</text>
<text transform="translate(3508.35 982.00) scale(0.9659 1)" font-family="'Liberation Sans', sans-serif" font-size="40.82" font-weight="normal" fill="#fff" stroke="#fff" stroke-width="0.53" stroke-linejoin="round">2024111612SS</text>
<text transform="translate(3508.34 1041.00) scale(0.9696 1)" font-family="'Liberation Sans', sans-serif" font-size="40.82" font-weight="normal" fill="#fff" stroke="#fff" stroke-width="0.53" stroke-linejoin="round">2024111615SS</text>
<text transform="translate(3508.34 1100.00) scale(0.9718 1)" font-family="'Liberation Sans', sans-serif" font-size="40.82" font-weight="normal" fill="#fff" stroke="#fff" stroke-width="0.53" stroke-linejoin="round">2024111618SS</text>
<text transform="translate(3508.35 1159.00) scale(0.9659 1)" font-family="'Liberation Sans', sans-serif" font-size="40.82" font-weight="normal" fill="#fff" stroke="#fff" stroke-width="0.53" stroke-linejoin="round">2024111621SS</text>
<text transform="translate(3508.32 1218.00) scale(0.9835 1)" font-family="'Liberation Sans', sans-serif" font-size="40.82" font-weight="normal" fill="#fff" stroke="#fff" stroke-width="0.53" stroke-linejoin="round">2024111624SS</text>
<text transform="translate(3508.34 1277.00) scale(0.9710 1)" font-family="'Liberation Sans', sans-serif" font-size="40.82" font-weight="normal" fill="#fff" stroke="#fff" stroke-width="0.53" stroke-linejoin="round">2024111627SS</text>
<text transform="translate(3508.33 1336.00) scale(0.9773 1)" font-family="'Liberation Sans', sans-serif" font-size="40.82" font-weight="normal" fill="#fff" stroke="#fff" stroke-width="0.53" stroke-linejoin="round">2024111630SS</text>
<text transform="translate(3508.35 1395.00) scale(0.9670 1)" font-family="'Liberation Sans', sans-serif" font-size="40.82" font-weight="normal" fill="#fff" stroke="#fff" stroke-width="0.53" stroke-linejoin="round">2024111633SS</text>
<text transform="translate(3508.34 1454.00) scale(0.9710 1)" font-family="'Liberation Sans', sans-serif" font-size="40.82" font-weight="normal" fill="#fff" stroke="#fff" stroke-width="0.53" stroke-linejoin="round">2024111636SS</text>
<text transform="translate(3508.34 1513.00) scale(0.9710 1)" font-family="'Liberation Sans', sans-serif" font-size="40.82" font-weight="normal" fill="#fff" stroke="#fff" stroke-width="0.53" stroke-linejoin="round">2024111639SS</text>
<text transform="translate(3508.33 1572.00) scale(0.9799 1)" font-family="'Liberation Sans', sans-serif" font-size="40.82" font-weight="normal" fill="#fff" stroke="#fff" stroke-width="0.53" stroke-linejoin="round">2024111643SS</text>
<text transform="translate(3508.32 1631.00) scale(0.9835 1)" font-family="'Liberation Sans', sans-serif" font-size="40.82" font-weight="normal" fill="#fff" stroke="#fff" stroke-width="0.53" stroke-linejoin="round">2024111646SS</text>
<text transform="translate(151.51 1993.40) scale(1.0698 1)" font-family="'Liberation Sans', sans-serif" font-size="40.53" font-weight="normal" fill="#fff" stroke="#fff" stroke-width="0.53" stroke-linejoin="round">Mean Tropopause</text>
<text transform="translate(151.49 2053.50) scale(1.0765 1)" font-family="'Liberation Sans', sans-serif" font-size="40.53" font-weight="normal" fill="#fff" stroke="#fff" stroke-width="0.53" stroke-linejoin="round">Median Tropopause</text>
<text transform="translate(153.03 2112.90) scale(1.0642 1)" font-family="'Liberation Sans', sans-serif" font-size="40.53" font-weight="normal" fill="#fff" stroke="#fff" stroke-width="0.53" stroke-linejoin="round">Tropopause Range</text>
<text transform="translate(3267.27 2038.90) scale(1.1030 1)" font-family="'Liberation Sans', sans-serif" font-size="32.71" font-weight="normal" fill="#808080" stroke="#808080" stroke-width="0.43" stroke-linejoin="round">SAGE III/ISS Mission | NASA LaRC</text>
<text transform="translate(3311.29 2076.20) scale(1.1003 1)" font-family="'Liberation Sans', sans-serif" font-size="32.71" font-weight="normal" fill="#808080" stroke="#808080" stroke-width="0.43" stroke-linejoin="round">Preparer: Kevin R. Leavor (AMA)</text>
<text transform="translate(3389.77 2113.50) scale(1.0616 1)" font-family="'Liberation Sans', sans-serif" font-size="32.71" font-weight="normal" fill="#808080" stroke="#808080" stroke-width="0.43" stroke-linejoin="round">Generated 2025-01-16 14:29</text>
<text transform="translate(3563.31 2150.70) scale(1.0937 1)" font-family="'Liberation Sans', sans-serif" font-size="32.71" font-weight="normal" fill="#808080" stroke="#808080" stroke-width="0.43" stroke-linejoin="round">Data Version: 5.3</text>
</svg>
</body></html>
